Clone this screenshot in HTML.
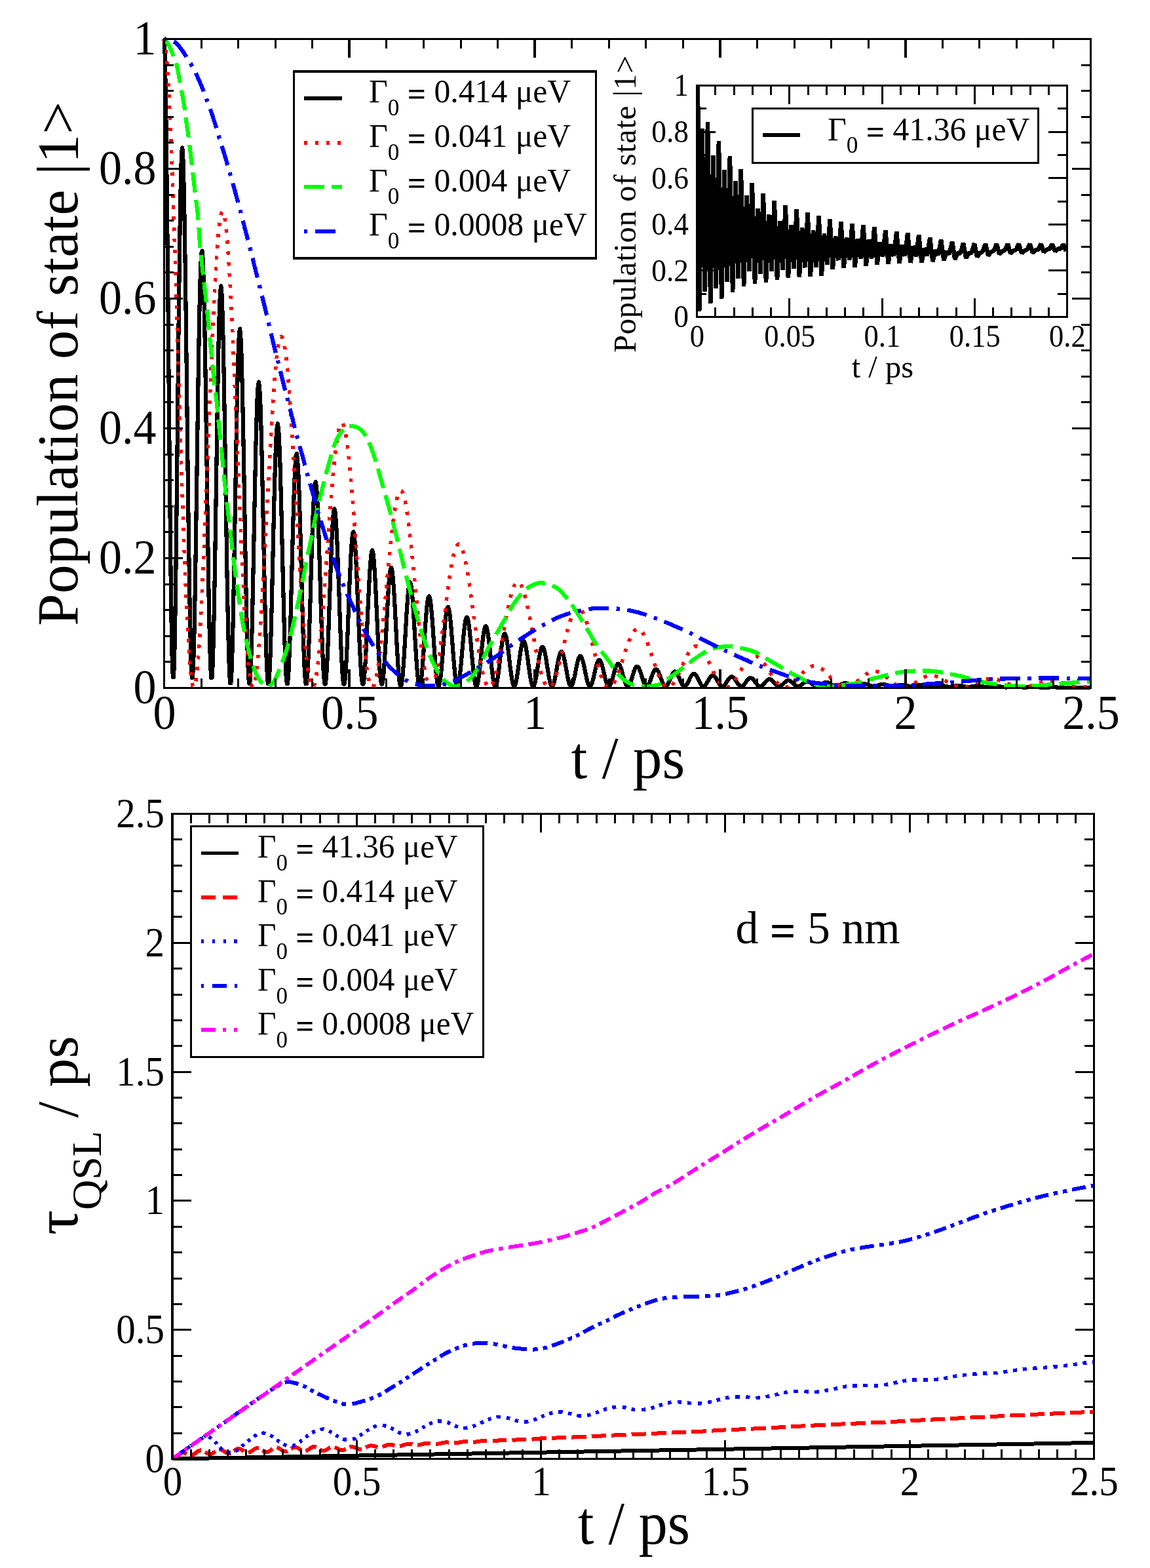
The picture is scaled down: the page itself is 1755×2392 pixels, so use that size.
<!DOCTYPE html>
<html><head><meta charset="utf-8"><title>Population of state |1&gt; and quantum speed limit time</title>
<style>
html,body{margin:0;padding:0;background:#fff;}
svg{display:block;}
text{font-family:"Liberation Serif","DejaVu Serif",serif;fill:#000;}
.ce{shape-rendering:crispEdges;}
</style></head>
<body>
<svg width="1755" height="2392" viewBox="0 0 1755 2392">
<rect width="1755" height="2392" fill="#fff"/>
<g class="ce" fill="none" stroke-linejoin="round">
<path d="M250.5,59.5 L251.6,82 L252.7,133.4 L253.8,210.5 L254.9,308.2 L256.1,420.4 L257.2,540 L258.3,659.7 L259.4,772.2 L260.5,870.8 L261.6,949.9 L262.7,1004.9 L263.8,1033 L265,1033 L266.1,1005.6 L267.2,953.1 L268.3,879.2 L269.4,789.3 L270.5,689.3 L271.6,585.7 L272.7,485.4 L273.9,394.7 L275,319.4 L276.1,264 L277.2,232.1 L278.3,225.3 L279.5,244.9 L280.7,288.5 L281.9,353.1 L283.1,434.6 L284.3,527.9 L285.5,627.1 L286.7,726.2 L287.9,819.1 L289.2,900.4 L290.4,965.4 L291.6,1010.6 L292.8,1033.6 L294,1033.6 L295.2,1011.3 L296.4,968.4 L297.6,908.4 L298.8,835.3 L300,754.2 L301.2,670.5 L302.4,589.6 L303.6,516.6 L304.8,456.3 L306,412.3 L307.2,387.2 L308.4,382.5 L309.6,395 L310.7,427.1 L311.9,476.9 L313.1,541.1 L314.2,615.7 L315.4,696 L316.5,777.1 L317.7,853.8 L318.8,921.5 L320,976.2 L321.1,1014.4 L322.3,1034 L323.5,1034 L324.6,1014.6 L325.8,977.2 L326.9,924.3 L328.1,859.4 L329.2,786.7 L330.4,710.9 L331.5,636.8 L332.7,569.2 L333.8,512.2 L335,469.5 L336.2,443.6 L337.3,436.2 L338.5,448.5 L339.6,479 L340.8,525.8 L341.9,585.8 L343.1,655.3 L344.2,730 L345.4,805.1 L346.5,876.1 L347.7,938.6 L348.9,989 L350,1024.2 L351.2,1042.2 L352.3,1042.2 L353.5,1024.5 L354.6,990.2 L355.8,942 L356.9,882.8 L358.1,816.8 L359.3,748 L360.4,681 L361.6,619.9 L362.7,568.7 L363.9,530.5 L365,507.7 L366.2,501.6 L367.3,513.6 L368.5,541.7 L369.6,584.2 L370.8,638.2 L372,700.5 L373.1,767 L374.3,833.7 L375.4,896.5 L376.6,951.6 L377.7,995.9 L378.9,1026.7 L380,1042.5 L381.2,1042.5 L382.3,1027.1 L383.5,997.4 L384.7,955.7 L385.8,904.8 L387,848.1 L388.1,789.3 L389.3,732.2 L390.4,680.5 L391.6,637.4 L392.7,605.5 L393.9,586.9 L395,582.6 L396.2,592.5 L397.4,616.3 L398.5,652.2 L399.7,698.1 L400.8,751 L402,807.6 L403.1,864.5 L404.3,918 L405.4,965.1 L406.6,1002.9 L407.8,1029.3 L408.9,1042.8 L410.1,1042.8 L411.2,1029.6 L412.4,1004.1 L413.5,968.3 L414.7,924.6 L415.8,875.8 L417,825.2 L418.1,776 L419.3,731.4 L420.5,694.1 L421.6,666.5 L422.8,650.2 L423.9,646.3 L425.1,654.5 L426.2,674.5 L427.4,705.2 L428.5,744.6 L429.7,790.1 L430.8,839 L432,888.1 L433.2,934.5 L434.3,975.4 L435.5,1008.3 L436.6,1031.2 L437.8,1043 L438.9,1043 L440.1,1031.4 L441.2,1009.1 L442.4,977.7 L443.6,939.2 L444.7,896.2 L445.9,851.5 L447,808 L448.2,768.3 L449.3,735.1 L450.5,710.4 L451.6,695.7 L452.8,691.8 L453.9,699.1 L455.1,717 L456.3,744.3 L457.4,779.2 L458.6,819.6 L459.7,862.8 L460.9,906.3 L462,947.4 L463.2,983.5 L464.3,1012.5 L465.5,1032.8 L466.6,1043.2 L467.8,1043.2 L469,1033 L470.1,1013.4 L471.3,985.7 L472.4,951.8 L473.6,914 L474.7,874.7 L475.9,836.5 L477,801.7 L478.2,772.6 L479.4,751 L480.5,738.2 L481.7,734.9 L482.8,741.5 L484,757.4 L485.1,781.4 L486.3,812.1 L487.4,847.6 L488.6,885.5 L489.7,923.7 L490.9,959.6 L492.1,991.2 L493.2,1016.6 L494.4,1034.3 L495.5,1043.4 L496.7,1043.4 L497.8,1034.5 L499,1017.4 L500.1,993.3 L501.3,963.9 L502.4,931.1 L503.6,897 L504.8,863.8 L505.9,833.8 L507.1,808.6 L508.2,790 L509.4,779 L510.5,776.3 L511.7,782 L512.8,795.7 L514,816.5 L515.1,843.1 L516.3,873.8 L517.5,906.7 L518.6,939.7 L519.8,970.9 L520.9,998.3 L522.1,1020.3 L523.2,1035.6 L524.4,1043.5 L525.5,1043.5 L526.7,1035.8 L527.9,1020.9 L529,1000 L530.2,974.5 L531.3,946 L532.5,916.3 L533.6,887.5 L534.8,861.4 L535.9,839.5 L537.1,823.3 L538.2,813.7 L539.4,811.3 L540.6,816.1 L541.7,828 L542.9,846 L544,869.1 L545.2,895.7 L546.3,924.3 L547.5,953.1 L548.6,980.2 L549.8,1004.1 L550.9,1023.3 L552.1,1036.8 L553.3,1043.6 L554.4,1043.6 L555.6,1036.9 L556.7,1023.9 L557.9,1005.6 L559,983.2 L560.2,958.1 L561.3,932.1 L562.5,906.8 L563.7,883.8 L564.8,864.5 L566,850.2 L567.1,841.7 L568.3,839.5 L569.4,843.8 L570.6,854.3 L571.7,870.2 L572.9,890.5 L574,914 L575.2,939.1 L576.4,964.4 L577.5,988.2 L578.7,1009.1 L579.8,1026 L581,1037.7 L582.1,1043.7 L583.3,1043.7 L584.4,1037.8 L585.6,1026.5 L586.7,1010.5 L587.9,990.9 L589.1,969.1 L590.2,946.4 L591.4,924.3 L592.5,904.3 L593.7,887.5 L594.8,875.1 L596,867.7 L597.1,865.9 L598.3,869.7 L599.4,878.9 L600.6,892.9 L601.8,910.9 L602.9,931.6 L604.1,953.8 L605.2,976.1 L606.4,997.2 L607.5,1015.7 L608.7,1030.6 L609.8,1041 L611,1046.3 L612.2,1046.3 L613.3,1041.1 L614.5,1031 L615.6,1016.9 L616.8,999.5 L617.9,980.2 L619.1,960.1 L620.2,940.5 L621.4,922.7 L622.5,907.8 L623.7,896.8 L624.9,890.2 L626,888.6 L627.2,892 L628.3,900.1 L629.5,912.4 L630.6,928.1 L631.8,946.2 L632.9,965.6 L634.1,985.1 L635.2,1003.5 L636.4,1019.7 L637.6,1032.7 L638.7,1041.8 L639.9,1046.4 L641,1046.4 L642.2,1041.9 L643.3,1033.1 L644.5,1020.8 L645.6,1005.7 L646.8,988.9 L648,971.4 L649.1,954.4 L650.3,939 L651.4,926.1 L652.6,916.5 L653.7,910.9 L654.9,909.5 L656,912.3 L657.2,919.3 L658.3,929.9 L659.5,943.5 L660.7,959.2 L661.8,976.1 L663,993.1 L664.1,1009.1 L665.3,1023.2 L666.4,1034.5 L667.6,1042.4 L668.7,1046.5 L669.9,1046.5 L671,1042.5 L672.2,1034.8 L673.4,1024 L674.5,1010.8 L675.7,996 L676.8,980.6 L678,965.6 L679.1,952 L680.3,940.6 L681.4,932.1 L682.6,927.1 L683.8,925.8 L684.9,928.4 L686.1,934.6 L687.2,944 L688.4,956 L689.5,969.9 L690.7,984.7 L691.8,999.6 L693,1013.7 L694.1,1026.1 L695.3,1036.1 L696.5,1043 L697.6,1046.6 L698.8,1046.6 L699.9,1043.1 L701.1,1036.4 L702.2,1026.9 L703.4,1015.4 L704.5,1002.5 L705.7,989.1 L706.8,976.1 L708,964.2 L709.2,954.3 L710.3,947 L711.5,942.7 L712.6,941.6 L713.8,943.8 L714.9,949.2 L716.1,957.3 L717.2,967.8 L718.4,979.8 L719.5,992.8 L720.7,1005.8 L721.9,1018 L723,1028.8 L724.2,1037.5 L725.3,1043.5 L726.5,1046.6 L727.6,1046.6 L728.8,1043.6 L729.9,1037.7 L731.1,1029.5 L732.3,1019.4 L733.4,1008.1 L734.6,996.4 L735.7,985.1 L736.9,974.7 L738,966.1 L739.2,959.7 L740.3,955.9 L741.5,954.9 L742.6,956.8 L743.8,961.5 L745,968.7 L746.1,977.8 L747.3,988.3 L748.4,999.6 L749.6,1011 L750.7,1021.7 L751.9,1031.1 L753,1038.7 L754.2,1044 L755.3,1046.7 L756.5,1046.7 L757.7,1044 L758.8,1038.9 L760,1031.7 L761.1,1022.9 L762.3,1013.1 L763.4,1002.9 L764.6,993 L765.7,984 L766.9,976.4 L768.1,970.8 L769.2,967.5 L770.4,966.7 L771.5,968.4 L772.7,972.5 L773.8,978.8 L775,986.8 L776.1,996 L777.3,1005.8 L778.4,1015.7 L779.6,1025 L780.8,1033.2 L781.9,1039.8 L783.1,1044.4 L784.2,1046.7 L785.4,1046.7 L786.5,1044.4 L787.7,1040 L788.8,1033.7 L790,1026.1 L791.1,1017.6 L792.3,1008.8 L793.5,1000.2 L794.6,992.4 L795.8,985.9 L796.9,981.1 L798.1,978.3 L799.2,977.6 L800.4,979.1 L801.5,982.6 L802.7,988 L803.8,994.9 L805,1002.8 L806.2,1011.3 L807.3,1019.9 L808.5,1027.9 L809.6,1035 L810.8,1040.7 L811.9,1044.7 L813.1,1046.7 L814.2,1046.7 L815.4,1044.7 L816.6,1040.9 L817.7,1035.5 L818.9,1028.9 L820,1021.5 L821.2,1013.9 L822.3,1006.4 L823.5,999.6 L824.6,994 L825.8,989.8 L826.9,987.3 L828.1,986.7 L829.3,988 L830.4,991 L831.6,995.7 L832.7,1001.6 L833.9,1008.5 L835,1015.9 L836.2,1023.4 L837.3,1030.4 L838.5,1036.6 L839.6,1041.5 L840.8,1045 L842,1046.8 L843.1,1046.8 L844.3,1045 L845.4,1041.7 L846.6,1036.9 L847.7,1031.1 L848.9,1024.7 L850,1017.9 L851.2,1011.4 L852.4,1005.4 L853.5,1000.5 L854.7,996.8 L855.8,994.6 L857,994 L858.1,995.1 L859.3,997.8 L860.4,1001.9 L861.6,1007.2 L862.7,1013.2 L863.9,1019.7 L865.1,1026.3 L866.2,1032.4 L867.4,1037.9 L868.5,1042.2 L869.7,1045.2 L870.8,1046.8 L872,1046.8 L873.1,1045.3 L874.3,1042.3 L875.4,1038.2 L876.6,1033.1 L877.8,1027.5 L878.9,1021.6 L880.1,1015.9 L881.2,1010.7 L882.4,1006.4 L883.5,1003.2 L884.7,1001.3 L885.8,1000.8 L887,1001.8 L888.1,1004.1 L889.3,1007.7 L890.5,1012.3 L891.6,1017.6 L892.8,1023.3 L893.9,1028.9 L895.1,1034.3 L896.2,1039 L897.4,1042.8 L898.5,1045.5 L899.7,1046.8 L900.9,1046.8 L902,1045.5 L903.2,1042.9 L904.3,1039.3 L905.5,1034.9 L906.6,1030 L907.8,1024.9 L908.9,1019.9 L910.1,1015.4 L911.2,1011.7 L912.4,1008.9 L913.6,1007.2 L914.7,1006.8 L915.9,1007.7 L917,1009.8 L918.2,1012.9 L919.3,1016.9 L920.5,1021.5 L921.6,1026.4 L922.8,1031.4 L923.9,1036 L925.1,1040.1 L926.3,1043.4 L927.4,1045.7 L928.6,1046.9 L929.7,1046.9 L930.9,1045.7 L932,1043.5 L933.2,1040.4 L934.3,1036.6 L935.5,1032.4 L936.7,1028 L937.8,1023.8 L939,1019.9 L940.1,1016.7 L941.3,1014.3 L942.4,1012.9 L943.6,1012.6 L944.7,1013.3 L945.9,1015.1 L947,1017.7 L948.2,1021.1 L949.4,1025 L950.5,1029.3 L951.7,1033.5 L952.8,1037.5 L954,1041 L955.1,1043.9 L956.3,1045.9 L957.4,1046.9 L958.6,1046.9 L959.7,1045.9 L960.9,1044 L962.1,1041.2 L963.2,1037.9 L964.4,1034.2 L965.5,1030.4 L966.7,1026.7 L967.8,1023.3 L969,1020.4 L970.1,1018.3 L971.3,1017 L972.5,1016.7 L973.6,1017.4 L974.8,1018.9 L975.9,1021.3 L977.1,1024.3 L978.2,1027.7 L979.4,1031.5 L980.5,1035.2 L981.7,1038.7 L982.8,1041.8 L984,1044.3 L985.2,1046 L986.3,1046.9 L987.5,1046.9 L988.6,1046 L989.8,1044.4 L990.9,1042 L992.1,1039.1 L993.2,1035.9 L994.4,1032.6 L995.5,1029.4 L996.7,1026.5 L997.9,1024 L999,1022.2 L1000.2,1021.2 L1001.3,1020.9 L1002.5,1021.5 L1003.6,1022.8 L1004.8,1024.8 L1005.9,1027.4 L1007.1,1030.4 L1008.2,1033.6 L1009.4,1036.8 L1010.6,1039.9 L1011.7,1042.5 L1012.9,1044.7 L1014,1046.1 L1015.2,1046.9 L1016.3,1046.9 L1017.5,1046.2 L1018.6,1044.7 L1019.8,1042.7 L1021,1040.2 L1022.1,1037.5 L1023.3,1034.6 L1024.4,1031.8 L1025.6,1029.3 L1026.7,1027.2 L1027.9,1025.6 L1029,1024.7 L1030.2,1024.5 L1031.3,1025 L1032.5,1026.1 L1033.7,1027.9 L1034.8,1030.1 L1036,1032.7 L1037.1,1035.5 L1038.3,1038.2 L1039.4,1040.8 L1040.6,1043.1 L1041.7,1045 L1042.9,1046.3 L1044,1046.9 L1045.2,1046.9 L1046.4,1046.3 L1047.5,1045 L1048.7,1043.3 L1049.8,1041.2 L1051,1038.8 L1052.1,1036.3 L1053.3,1033.9 L1054.4,1031.7 L1055.6,1029.9 L1056.8,1028.6 L1057.9,1027.8 L1059.1,1027.6 L1060.2,1028 L1061.4,1029 L1062.5,1030.5 L1063.7,1032.5 L1064.8,1034.7 L1066,1037.1 L1067.1,1039.4 L1068.3,1041.7 L1069.5,1043.7 L1070.6,1045.3 L1071.8,1046.4 L1072.9,1046.9 L1074.1,1046.9 L1075.2,1046.4 L1076.4,1045.3 L1077.5,1043.8 L1078.7,1042 L1079.8,1039.9 L1081,1037.8 L1082.2,1035.7 L1083.3,1033.9 L1084.5,1032.3 L1085.6,1031.1 L1086.8,1030.5 L1087.9,1030.3 L1089.1,1030.6 L1090.2,1031.5 L1091.4,1032.8 L1092.5,1034.4 L1093.7,1036.3 L1094.9,1038.4 L1096,1040.5 L1097.2,1042.4 L1098.3,1044.1 L1099.5,1045.5 L1100.6,1046.4 L1101.8,1046.9 L1102.9,1046.9 L1104.1,1046.5 L1105.3,1045.5 L1106.4,1044.2 L1107.6,1042.6 L1108.7,1040.8 L1109.9,1038.9 L1111,1037.1 L1112.2,1035.5 L1113.3,1034.1 L1114.5,1033.1 L1115.6,1032.5 L1116.8,1032.3 L1118,1032.6 L1119.1,1033.4 L1120.3,1034.5 L1121.4,1036 L1122.6,1037.7 L1123.7,1039.5 L1124.9,1041.3 L1126,1043 L1127.2,1044.5 L1128.3,1045.7 L1129.5,1046.5 L1130.7,1046.9 L1131.8,1046.9 L1133,1046.5 L1134.1,1045.7 L1135.3,1044.6 L1136.4,1043.2 L1137.6,1041.6 L1138.7,1040 L1139.9,1038.4 L1141.1,1037 L1142.2,1035.8 L1143.4,1034.9 L1144.5,1034.4 L1145.7,1034.3 L1146.8,1034.6 L1148,1035.2 L1149.1,1036.2 L1150.3,1037.5 L1151.4,1038.9 L1152.6,1040.5 L1153.8,1042.1 L1154.9,1043.5 L1156.1,1044.8 L1157.2,1045.9 L1158.4,1046.6 L1159.5,1047 L1160.7,1047 L1161.8,1046.6 L1163,1045.9 L1164.1,1044.9 L1165.3,1043.7 L1166.5,1042.4 L1167.6,1041 L1168.8,1039.7 L1169.9,1038.5 L1171.1,1037.5 L1172.2,1036.7 L1173.4,1036.3 L1174.5,1036.2 L1175.7,1036.4 L1176.8,1037 L1178,1037.9 L1179.2,1038.9 L1180.3,1040.2 L1181.5,1041.5 L1182.6,1042.8 L1183.8,1044.1 L1184.9,1045.2 L1186.1,1046 L1187.2,1046.6 L1188.4,1047 L1189.6,1047 L1190.7,1046.7 L1191.9,1046.1 L1193,1045.3 L1194.2,1044.3 L1195.3,1043.1 L1196.5,1042 L1197.6,1040.9 L1198.8,1039.9 L1199.9,1039 L1201.1,1038.4 L1202.3,1038.1 L1203.4,1038 L1204.6,1038.2 L1205.7,1038.7 L1206.9,1039.4 L1208,1040.3 L1209.2,1041.3 L1210.3,1042.4 L1211.5,1043.5 L1212.6,1044.6 L1213.8,1045.5 L1215,1046.2 L1216.1,1046.7 L1217.3,1047 L1218.4,1047 L1219.6,1046.7 L1220.7,1046.2 L1221.9,1045.5 L1223,1044.7 L1224.2,1043.8 L1225.4,1042.8 L1226.5,1041.9 L1227.7,1041 L1228.8,1040.3 L1230,1039.8 L1231.1,1039.5 L1232.3,1039.4 L1233.4,1039.6 L1234.6,1040 L1235.7,1040.6 L1236.9,1041.4 L1238.1,1042.2 L1239.2,1043.2 L1240.4,1044.1 L1241.5,1045 L1242.7,1045.7 L1243.8,1046.3 L1245,1046.8 L1246.1,1047 L1247.3,1047 L1248.4,1046.8 L1249.6,1046.4 L1250.8,1045.8 L1251.9,1045.1 L1253.1,1044.4 L1254.2,1043.6 L1255.4,1042.8 L1256.5,1042.1 L1257.7,1041.6 L1258.8,1041.2 L1260,1040.9 L1261.2,1040.9 L1262.3,1041.1 L1263.5,1041.4 L1264.6,1041.9 L1265.8,1042.5 L1266.9,1043.2 L1268.1,1043.9 L1269.2,1044.7 L1270.4,1045.4 L1271.5,1046 L1272.7,1046.5 L1273.9,1046.8 L1275,1047 L1276.2,1047 L1277.3,1046.8 L1278.5,1046.5 L1279.6,1046 L1280.8,1045.5 L1281.9,1044.9 L1283.1,1044.3 L1284.2,1043.7 L1285.4,1043.2 L1286.6,1042.7 L1287.7,1042.4 L1288.9,1042.2 L1290,1042.2 L1291.2,1042.3 L1292.3,1042.6 L1293.5,1042.9 L1294.6,1043.4 L1295.8,1044 L1296.9,1044.6 L1298.1,1045.2 L1299.3,1045.7 L1300.4,1046.2 L1301.6,1046.6 L1302.7,1046.8 L1303.9,1047 L1305,1047 L1306.2,1046.8 L1307.3,1046.6 L1308.5,1046.2 L1309.7,1045.8 L1310.8,1045.3 L1312,1044.8 L1313.1,1044.3 L1314.3,1043.9 L1315.4,1043.5 L1316.6,1043.3 L1317.7,1043.1 L1318.9,1043.1 L1320,1043.2 L1321.2,1043.4 L1322.4,1043.7 L1323.5,1044.1 L1324.7,1044.6 L1325.8,1045 L1327,1045.5 L1328.1,1046 L1329.3,1046.3 L1330.4,1046.7 L1331.6,1046.9 L1332.7,1047 L1333.9,1047 L1335.1,1046.9 L1336.2,1046.7 L1337.4,1046.4 L1338.5,1046 L1339.7,1045.7 L1340.8,1045.3 L1342,1044.9 L1343.1,1044.5 L1344.3,1044.2 L1345.5,1044 L1346.6,1043.9 L1347.8,1043.9 L1348.9,1044 L1350.1,1044.2 L1351.2,1044.4 L1352.4,1044.7 L1353.5,1045.1 L1354.7,1045.5 L1355.8,1045.9 L1357,1046.2 L1358.2,1046.5 L1359.3,1046.8 L1360.5,1047 L1361.6,1047 L1362.8,1047 L1363.9,1047 L1365.1,1046.8 L1366.2,1046.6 L1367.4,1046.3 L1368.5,1046 L1369.7,1045.7 L1370.9,1045.4 L1372,1045.1 L1373.2,1044.9 L1374.3,1044.7 L1375.5,1044.6 L1376.6,1044.6 L1377.8,1044.7 L1378.9,1044.8 L1380.1,1045 L1381.2,1045.3 L1382.4,1045.6 L1383.6,1045.9 L1384.7,1046.2 L1385.9,1046.5 L1387,1046.8 L1388.2,1047 L1389.3,1047.2 L1390.5,1047.3 L1391.6,1047.3 L1392.8,1047.2 L1394,1047 L1395.1,1046.8 L1396.3,1046.6 L1397.4,1046.3 L1398.6,1046 L1399.7,1045.8 L1400.9,1045.5 L1402,1045.3 L1403.2,1045.2 L1404.3,1045.1 L1405.5,1045 L1406.7,1045.1 L1407.8,1045.2 L1409,1045.4 L1410.1,1045.7 L1411.3,1046 L1412.4,1046.3 L1413.6,1046.6 L1414.7,1046.8 L1415.9,1047.1 L1417,1047.3 L1418.2,1047.4 L1419.4,1047.5 L1420.5,1047.5 L1421.7,1047.4 L1422.8,1047.3 L1424,1047.1 L1425.1,1046.9 L1426.3,1046.6 L1427.4,1046.4 L1428.6,1046.1 L1429.8,1045.9 L1430.9,1045.7 L1432.1,1045.6 L1433.2,1045.5 L1434.4,1045.5 L1435.5,1045.6 L1436.7,1045.7 L1437.8,1045.9 L1439,1046.1 L1440.1,1046.3 L1441.3,1046.6 L1442.5,1046.9 L1443.6,1047.1 L1444.8,1047.4 L1445.9,1047.5 L1447.1,1047.7 L1448.2,1047.7 L1449.4,1047.7 L1450.5,1047.7 L1451.7,1047.5 L1452.8,1047.4 L1454,1047.2 L1455.2,1047 L1456.3,1046.7 L1457.5,1046.5 L1458.6,1046.3 L1459.8,1046.1 L1460.9,1046 L1462.1,1046 L1463.2,1045.9 L1464.4,1046 L1465.5,1046.1 L1466.7,1046.3 L1467.9,1046.5 L1469,1046.7 L1470.2,1046.9 L1471.3,1047.2 L1472.5,1047.4 L1473.6,1047.6 L1474.8,1047.8 L1475.9,1047.9 L1477.1,1047.9 L1478.3,1047.9 L1479.4,1047.9 L1480.6,1047.8 L1481.7,1047.6 L1482.9,1047.5 L1484,1047.3 L1485.2,1047.1 L1486.3,1046.9 L1487.5,1046.7 L1488.6,1046.6 L1489.8,1046.5 L1491,1046.4 L1492.1,1046.4 L1493.3,1046.4 L1494.4,1046.5 L1495.6,1046.7 L1496.7,1046.9 L1497.9,1047.1 L1499,1047.3 L1500.2,1047.5 L1501.3,1047.7 L1502.5,1047.9 L1503.7,1048 L1504.8,1048.1 L1506,1048.2 L1507.1,1048.2 L1508.3,1048.1 L1509.4,1048 L1510.6,1047.9 L1511.7,1047.8 L1512.9,1047.6 L1514.1,1047.4 L1515.2,1047.3 L1516.4,1047.1 L1517.5,1047 L1518.7,1046.9 L1519.8,1046.9 L1521,1046.8 L1522.1,1046.9 L1523.3,1047 L1524.4,1047.1 L1525.6,1047.3 L1526.8,1047.4 L1527.9,1047.6 L1529.1,1047.8 L1530.2,1048 L1531.4,1048.2 L1532.5,1048.3 L1533.7,1048.4 L1534.8,1048.4 L1536,1048.4 L1537.1,1048.4 L1538.3,1048.3 L1539.5,1048.2 L1540.6,1048 L1541.8,1047.9 L1542.9,1047.8 L1544.1,1047.6 L1545.2,1047.5 L1546.4,1047.4 L1547.5,1047.3 L1548.7,1047.3 L1549.9,1047.3 L1551,1047.3 L1552.2,1047.4 L1553.3,1047.5 L1554.5,1047.7 L1555.6,1047.8 L1556.8,1048 L1557.9,1048.1 L1559.1,1048.3 L1560.2,1048.4 L1561.4,1048.5 L1562.6,1048.6 L1563.7,1048.6 L1564.9,1048.6 L1566,1048.6 L1567.2,1048.5 L1568.3,1048.4 L1569.5,1048.3 L1570.6,1048.2 L1571.8,1048.1 L1572.9,1048 L1574.1,1047.9 L1575.3,1047.8 L1576.4,1047.8 L1577.6,1047.7 L1578.7,1047.8 L1579.9,1047.8 L1581,1047.9 L1582.2,1048 L1583.3,1048.1 L1584.5,1048.2 L1585.6,1048.3 L1586.8,1048.5 L1588,1048.6 L1589.1,1048.7 L1590.3,1048.8 L1591.4,1048.8 L1592.6,1048.8 L1593.7,1048.8 L1594.9,1048.8 L1596,1048.8 L1597.2,1048.7 L1598.4,1048.6 L1599.5,1048.5 L1600.7,1048.5 L1601.8,1048.4 L1603,1048.3 L1604.1,1048.2 L1605.3,1048.2 L1606.4,1048.2 L1607.6,1048.2 L1608.7,1048.2 L1609.9,1048.3 L1611.1,1048.4 L1612.2,1048.5 L1613.4,1048.6 L1614.5,1048.7 L1615.7,1048.8 L1616.8,1048.9 L1618,1048.9 L1619.1,1049 L1620.3,1049.1 L1621.4,1049.1 L1622.6,1049.1 L1623.8,1049.1 L1624.9,1049 L1626.1,1049 L1627.2,1048.9 L1628.4,1048.9 L1629.5,1048.8 L1630.7,1048.7 L1631.8,1048.7 L1633,1048.7 L1634.2,1048.6 L1635.3,1048.6 L1636.5,1048.6 L1637.6,1048.7 L1638.8,1048.7 L1639.9,1048.8 L1641.1,1048.9 L1642.2,1049 L1643.4,1049 L1644.5,1049.1 L1645.7,1049.2 L1646.9,1049.2 L1648,1049.3 L1649.2,1049.3 L1650.3,1049.3 L1651.5,1049.3 L1652.6,1049.3 L1653.8,1049.3 L1654.9,1049.2 L1656.1,1049.2 L1657.2,1049.2 L1658.4,1049.2 L1659.6,1049.1 L1660.7,1049.1 L1661.9,1049.1 L1663,1049.1 L1664.2,1049.1" stroke="#000" stroke-width="6.2"/>
<path d="M250.5,59.5 L252,67.3 L253.5,80.4 L255,98.6 L256.5,121.7 L258,149.4 L259.6,181.4 L261.1,217.3 L262.6,256.7 L264.1,299.2 L265.6,344.3 L267.1,391.5 L268.6,440.3 L270.1,490.2 L271.6,540.6 L273.1,591.1 L274.6,641 L276.1,689.9 L277.6,737.3 L279.2,782.7 L280.7,825.7 L282.2,865.7 L283.7,902.6 L285.2,935.8 L286.7,965.1 L288.2,990.3 L289.7,1011.2 L291.2,1027.5 L292.7,1039.2 L294.2,1046.2 L295.8,1048.5 L297.3,1046.2 L298.8,1039.3 L300.3,1028.1 L301.8,1012.7 L303.3,993.3 L304.8,970.2 L306.3,943.7 L307.8,914.2 L309.3,882.1 L310.8,847.7 L312.3,811.4 L313.9,773.8 L315.4,735.3 L316.9,696.2 L318.4,657.1 L319.9,618.5 L321.4,580.7 L322.9,544.1 L324.4,509.3 L325.9,476.5 L327.4,446.2 L328.9,418.6 L330.4,394.1 L331.9,372.9 L333.5,355.2 L335,341.2 L336.5,331.1 L338,324.9 L339.5,322.7 L341,324.5 L342.5,330.1 L344,339.6 L345.5,352.9 L347,369.7 L348.5,389.9 L350,413.3 L351.5,439.5 L353,468.3 L354.5,499.4 L355.9,532.4 L357.4,566.9 L358.9,602.6 L360.4,639.1 L361.9,676.1 L363.4,713 L364.9,749.6 L366.4,785.5 L367.9,820.2 L369.4,853.5 L370.9,885 L372.4,914.4 L373.9,941.4 L375.4,965.8 L376.9,987.3 L378.4,1005.8 L379.9,1021.1 L381.4,1033.1 L382.9,1041.6 L384.4,1046.8 L385.9,1048.5 L387.3,1046.8 L388.8,1041.8 L390.3,1033.5 L391.8,1022.2 L393.3,1007.9 L394.8,990.9 L396.3,971.4 L397.8,949.7 L399.3,926.1 L400.8,900.7 L402.3,874.1 L403.8,846.4 L405.3,818 L406.8,789.2 L408.3,760.4 L409.8,731.9 L411.3,704 L412.8,677 L414.3,651.3 L415.8,627.2 L417.2,604.8 L418.7,584.4 L420.2,566.3 L421.7,550.6 L423.2,537.5 L424.7,527.1 L426.2,519.6 L427.7,514.9 L429.2,513.3 L430.7,514.5 L432.2,518.5 L433.8,525.3 L435.3,534.9 L436.9,547.1 L438.4,561.9 L439.9,579 L441.5,598.2 L443,619.3 L444.5,642.2 L446.1,666.4 L447.6,691.9 L449.2,718.2 L450.7,745.1 L452.2,772.4 L453.8,799.7 L455.3,826.8 L456.9,853.3 L458.4,879 L459.9,903.7 L461.5,927 L463,948.8 L464.5,968.9 L466.1,987 L467.6,1003 L469.2,1016.7 L470.7,1028.1 L472.2,1037 L473.8,1043.4 L475.3,1047.2 L476.9,1048.5 L478.4,1047.2 L479.9,1043.5 L481.5,1037.3 L483,1028.8 L484.5,1018.2 L486.1,1005.5 L487.6,990.9 L489.2,974.6 L490.7,956.9 L492.2,937.9 L493.8,917.9 L495.3,897.1 L496.8,875.8 L498.4,854.2 L499.9,832.5 L501.5,811.1 L503,790 L504.5,769.7 L506.1,750.3 L507.6,732.1 L509.2,715.1 L510.7,699.7 L512.2,685.9 L513.8,674 L515.3,664 L516.8,656.1 L518.4,650.3 L519.9,646.6 L521.5,645.2 L523,646 L524.5,649.1 L526,654.3 L527.5,661.6 L529,670.9 L530.5,682.1 L532,695 L533.5,709.6 L535,725.6 L536.5,742.8 L538,761.1 L539.5,780.3 L541,800.2 L542.5,820.5 L544,841 L545.5,861.6 L547,881.9 L548.5,901.9 L550,921.2 L551.5,939.8 L553,957.3 L554.5,973.7 L556,988.8 L557.5,1002.3 L559,1014.3 L560.5,1024.7 L562,1033.2 L563.5,1039.9 L565,1044.7 L566.5,1047.5 L568,1048.5 L569.5,1047.6 L571,1044.7 L572.5,1040.1 L574,1033.8 L575.5,1025.8 L577,1016.3 L578.5,1005.4 L580,993.3 L581.5,980 L583,965.9 L584.5,950.9 L586,935.4 L587.5,919.5 L589,903.4 L590.5,887.3 L592,871.3 L593.5,855.6 L595,840.5 L596.5,826.1 L598,812.5 L599.5,799.9 L601,788.5 L602.5,778.3 L604,769.5 L605.5,762.1 L607,756.2 L608.5,752 L610,749.3 L611.5,748.3 L613,749 L614.5,751.4 L616,755.4 L617.4,760.9 L618.9,767.9 L620.4,776.4 L621.9,786.1 L623.3,797 L624.8,808.9 L626.3,821.8 L627.8,835.5 L629.2,849.8 L630.7,864.5 L632.2,879.6 L633.7,894.9 L635.1,910.2 L636.6,925.3 L638.1,940.1 L639.6,954.4 L641.1,968.2 L642.5,981.1 L644,993.3 L645.5,1004.4 L647,1014.4 L648.4,1023.3 L649.9,1030.9 L651.4,1037.2 L652.9,1042.1 L654.3,1045.7 L655.8,1047.8 L657.3,1048.5 L658.8,1047.8 L660.3,1045.7 L661.7,1042.3 L663.2,1037.7 L664.7,1031.8 L666.2,1024.9 L667.6,1016.9 L669.1,1008 L670.6,998.3 L672.1,987.9 L673.5,977 L675,965.6 L676.5,954 L678,942.3 L679.5,930.5 L680.9,918.8 L682.4,907.5 L683.9,896.5 L685.4,886 L686.8,876.1 L688.3,867 L689.8,858.7 L691.3,851.3 L692.7,844.9 L694.2,839.6 L695.7,835.5 L697.2,832.4 L698.6,830.6 L700.1,829.9 L701.6,830.5 L703.1,832.2 L704.6,835.1 L706.1,839.1 L707.6,844.1 L709.1,850.2 L710.6,857.3 L712.1,865.2 L713.6,873.8 L715.1,883.2 L716.6,893.1 L718.1,903.5 L719.6,914.3 L721.1,925.3 L722.6,936.4 L724.1,947.5 L725.6,958.5 L727.1,969.3 L728.6,979.8 L730.1,989.8 L731.6,999.3 L733.1,1008.1 L734.6,1016.3 L736.1,1023.6 L737.6,1030.1 L739.1,1035.6 L740.6,1040.2 L742.1,1043.9 L743.6,1046.4 L745.1,1048 L746.5,1048.5 L748,1048 L749.5,1046.5 L751,1044 L752.5,1040.6 L754,1036.3 L755.5,1031.2 L757,1025.3 L758.5,1018.8 L760,1011.7 L761.5,1004.1 L763,996 L764.5,987.7 L766,979.2 L767.5,970.5 L769,961.9 L770.5,953.3 L772,944.9 L773.5,936.8 L775,929.1 L776.5,921.8 L778,915.1 L779.5,909 L781,903.5 L782.5,898.8 L784,894.9 L785.5,891.8 L787,889.5 L788.5,888.1 L790,887.6 L791.5,888 L793,889.2 L794.6,891.2 L796.1,894.1 L797.6,897.8 L799.2,902.2 L800.7,907.3 L802.2,913.1 L803.8,919.4 L805.3,926.3 L806.9,933.6 L808.4,941.2 L809.9,949.1 L811.5,957.2 L813,965.4 L814.5,973.6 L816.1,981.8 L817.6,989.8 L819.1,997.5 L820.7,1004.9 L822.2,1011.9 L823.7,1018.5 L825.3,1024.5 L826.8,1030 L828.3,1034.8 L829.9,1038.9 L831.4,1042.4 L832.9,1045 L834.5,1047 L836,1048.1 L837.5,1048.5 L839.1,1048.1 L840.6,1047 L842.2,1045.1 L843.7,1042.6 L845.2,1039.4 L846.8,1035.5 L848.3,1031.1 L849.8,1026.2 L851.4,1020.9 L852.9,1015.2 L854.4,1009.1 L856,1002.9 L857.5,996.4 L859,989.9 L860.6,983.4 L862.1,976.9 L863.6,970.6 L865.2,964.4 L866.7,958.6 L868.2,953 L869.8,947.9 L871.3,943.3 L872.9,939.1 L874.4,935.5 L875.9,932.5 L877.5,930.1 L879,928.3 L880.5,927.2 L882.1,926.8 L883.6,927 L885.1,928 L886.6,929.6 L888.2,931.8 L889.7,934.6 L891.2,938 L892.7,942 L894.3,946.4 L895.8,951.2 L897.3,956.4 L898.8,962 L900.4,967.8 L901.9,973.8 L903.4,979.9 L904.9,986.1 L906.5,992.3 L908,998.4 L909.5,1004.4 L911,1010.3 L912.5,1015.8 L914.1,1021.1 L915.6,1026 L917.1,1030.6 L918.6,1034.6 L920.2,1038.3 L921.7,1041.4 L923.2,1043.9 L924.7,1045.9 L926.3,1047.4 L927.8,1048.2 L929.3,1048.5 L930.8,1048.2 L932.3,1047.4 L933.9,1046 L935.4,1044.1 L936.9,1041.7 L938.4,1038.9 L940,1035.6 L941.5,1032 L943,1028 L944.5,1023.8 L946.1,1019.4 L947.6,1014.7 L949.1,1010 L950.6,1005.2 L952.1,1000.4 L953.7,995.6 L955.2,991 L956.7,986.5 L958.2,982.2 L959.8,978.2 L961.3,974.5 L962.8,971.1 L964.3,968.1 L965.9,965.4 L967.4,963.3 L968.9,961.6 L970.4,960.3 L972,959.6 L973.5,959.3 L975,959.5 L976.5,960.3 L978,961.5 L979.5,963.2 L980.9,965.3 L982.4,967.9 L983.9,970.8 L985.4,974.1 L986.9,977.6 L988.4,981.5 L989.8,985.6 L991.3,989.8 L992.8,994.2 L994.3,998.7 L995.8,1003.2 L997.2,1007.8 L998.7,1012.2 L1000.2,1016.6 L1001.7,1020.8 L1003.2,1024.9 L1004.7,1028.7 L1006.1,1032.3 L1007.6,1035.6 L1009.1,1038.5 L1010.6,1041.1 L1012.1,1043.4 L1013.6,1045.2 L1015,1046.6 L1016.5,1047.7 L1018,1048.3 L1019.5,1048.5 L1021,1048.3 L1022.5,1047.7 L1024,1046.7 L1025.4,1045.4 L1026.9,1043.6 L1028.4,1041.6 L1029.9,1039.3 L1031.4,1036.7 L1032.8,1033.9 L1034.3,1030.9 L1035.8,1027.8 L1037.3,1024.5 L1038.8,1021.1 L1040.3,1017.7 L1041.8,1014.4 L1043.2,1011 L1044.7,1007.7 L1046.2,1004.6 L1047.7,1001.6 L1049.2,998.8 L1050.7,996.2 L1052.1,993.8 L1053.6,991.7 L1055.1,989.9 L1056.6,988.4 L1058.1,987.3 L1059.5,986.4 L1061,985.9 L1062.5,985.8 L1064,986 L1065.5,986.4 L1067,987.2 L1068.4,988.3 L1069.9,989.7 L1071.4,991.5 L1072.9,993.4 L1074.3,995.7 L1075.8,998.1 L1077.3,1000.8 L1078.8,1003.6 L1080.3,1006.6 L1081.7,1009.7 L1083.2,1012.8 L1084.7,1016 L1086.2,1019.2 L1087.7,1022.4 L1089.1,1025.5 L1090.6,1028.5 L1092.1,1031.4 L1093.6,1034.2 L1095,1036.8 L1096.5,1039.1 L1098,1041.2 L1099.5,1043.1 L1101,1044.7 L1102.4,1046.1 L1103.9,1047.1 L1105.4,1047.9 L1106.9,1048.3 L1108.3,1048.5 L1109.8,1048.4 L1111.3,1047.9 L1112.8,1047.2 L1114.3,1046.2 L1115.7,1044.9 L1117.2,1043.4 L1118.7,1041.7 L1120.2,1039.8 L1121.7,1037.6 L1123.1,1035.4 L1124.6,1033 L1126.1,1030.5 L1127.6,1028 L1129,1025.4 L1130.5,1022.9 L1132,1020.3 L1133.5,1017.8 L1135,1015.4 L1136.4,1013.1 L1137.9,1010.9 L1139.4,1008.9 L1140.9,1007 L1142.4,1005.4 L1143.8,1003.9 L1145.3,1002.7 L1146.8,1001.8 L1148.3,1001.1 L1149.7,1000.6 L1151.2,1000.4 L1152.7,1000.5 L1154.2,1000.9 L1155.8,1001.6 L1157.3,1002.6 L1158.8,1003.7 L1160.3,1005.1 L1161.9,1006.7 L1163.4,1008.5 L1164.9,1010.5 L1166.5,1012.6 L1168,1014.8 L1169.5,1017.1 L1171,1019.4 L1172.6,1021.9 L1174.1,1024.3 L1175.6,1026.7 L1177.2,1029.1 L1178.7,1031.5 L1180.2,1033.7 L1181.7,1035.9 L1183.3,1038 L1184.8,1039.9 L1186.3,1041.6 L1187.9,1043.2 L1189.4,1044.6 L1190.9,1045.8 L1192.4,1046.7 L1194,1047.5 L1195.5,1048.1 L1197,1048.4 L1198.6,1048.5 L1200.1,1048.4 L1201.6,1048.1 L1203.1,1047.6 L1204.7,1046.8 L1206.2,1045.9 L1207.7,1044.9 L1209.2,1043.7 L1210.8,1042.3 L1212.3,1040.8 L1213.8,1039.2 L1215.4,1037.6 L1216.9,1035.9 L1218.4,1034.1 L1219.9,1032.3 L1221.5,1030.6 L1223,1028.8 L1224.5,1027.1 L1226.1,1025.5 L1227.6,1023.9 L1229.1,1022.5 L1230.6,1021.1 L1232.2,1019.9 L1233.7,1018.8 L1235.2,1017.9 L1236.8,1017.2 L1238.3,1016.6 L1239.8,1016.2 L1241.3,1015.9 L1242.9,1015.9 L1244.4,1016 L1245.9,1016.2 L1247.5,1016.7 L1249,1017.2 L1250.5,1018 L1252,1018.9 L1253.6,1019.9 L1255.1,1021.1 L1256.6,1022.4 L1258.1,1023.8 L1259.7,1025.2 L1261.2,1026.8 L1262.7,1028.4 L1264.2,1030 L1265.8,1031.7 L1267.3,1033.4 L1268.8,1035 L1270.4,1036.6 L1271.9,1038.2 L1273.4,1039.7 L1274.9,1041.1 L1276.5,1042.4 L1278,1043.7 L1279.5,1044.8 L1281,1045.7 L1282.6,1046.6 L1284.1,1047.3 L1285.6,1047.8 L1287.1,1048.2 L1288.7,1048.4 L1290.2,1048.5 L1291.7,1048.4 L1293.3,1048.2 L1294.8,1047.8 L1296.3,1047.3 L1297.8,1046.7 L1299.4,1045.9 L1300.9,1045 L1302.4,1044 L1303.9,1042.9 L1305.5,1041.8 L1307,1040.5 L1308.5,1039.3 L1310,1038 L1311.6,1036.7 L1313.1,1035.3 L1314.6,1034 L1316.2,1032.8 L1317.7,1031.5 L1319.2,1030.3 L1320.7,1029.2 L1322.3,1028.2 L1323.8,1027.3 L1325.3,1026.4 L1326.8,1025.7 L1328.4,1025.1 L1329.9,1024.6 L1331.4,1024.3 L1332.9,1024 L1334.5,1024 L1336,1024 L1337.4,1024.2 L1338.9,1024.5 L1340.3,1025 L1341.8,1025.5 L1343.2,1026.2 L1344.7,1027 L1346.1,1027.9 L1347.6,1028.9 L1349,1029.9 L1350.5,1031 L1351.9,1032.2 L1353.3,1033.4 L1354.8,1034.7 L1356.2,1035.9 L1357.7,1037.2 L1359.1,1038.4 L1360.6,1039.6 L1362,1040.8 L1363.5,1041.9 L1364.9,1043 L1366.3,1044 L1367.8,1044.9 L1369.2,1045.7 L1370.7,1046.4 L1372.1,1047.1 L1373.6,1047.6 L1375,1048 L1376.5,1048.3 L1377.9,1048.4 L1379.3,1048.5 L1380.8,1048.4 L1382.2,1048.3 L1383.7,1048 L1385.1,1047.6 L1386.6,1047.1 L1388,1046.6 L1389.5,1045.9 L1390.9,1045.2 L1392.4,1044.4 L1393.8,1043.5 L1395.2,1042.6 L1396.7,1041.7 L1398.1,1040.7 L1399.6,1039.7 L1401,1038.8 L1402.5,1037.8 L1403.9,1036.9 L1405.4,1036 L1406.8,1035.1 L1408.2,1034.3 L1409.7,1033.5 L1411.1,1032.8 L1412.6,1032.2 L1414,1031.7 L1415.5,1031.3 L1416.9,1030.9 L1418.4,1030.7 L1419.8,1030.5 L1421.3,1030.5 L1422.7,1030.5 L1424.2,1030.6 L1425.7,1030.9 L1427.3,1031.2 L1428.8,1031.6 L1430.3,1032.2 L1431.8,1032.7 L1433.4,1033.4 L1434.9,1034.1 L1436.4,1034.9 L1437.9,1035.7 L1439.4,1036.6 L1441,1037.5 L1442.5,1038.4 L1444,1039.3 L1445.5,1040.2 L1447,1041.1 L1448.6,1042 L1450.1,1042.9 L1451.6,1043.7 L1453.1,1044.5 L1454.7,1045.2 L1456.2,1045.9 L1457.7,1046.5 L1459.2,1047 L1460.7,1047.4 L1462.3,1047.8 L1463.8,1048.1 L1465.3,1048.3 L1466.8,1048.5 L1468.3,1048.5 L1469.9,1048.5 L1471.4,1048.3 L1472.9,1048.1 L1474.4,1047.9 L1476,1047.5 L1477.5,1047.1 L1479,1046.6 L1480.5,1046.1 L1482,1045.5 L1483.6,1044.9 L1485.1,1044.2 L1486.6,1043.5 L1488.1,1042.9 L1489.7,1042.1 L1491.2,1041.4 L1492.7,1040.7 L1494.2,1040.1 L1495.7,1039.4 L1497.3,1038.8 L1498.8,1038.2 L1500.3,1037.7 L1501.8,1037.2 L1503.3,1036.7 L1504.9,1036.3 L1506.4,1036 L1507.9,1035.8 L1509.4,1035.6 L1511,1035.5 L1512.5,1035.5 L1514,1035.5 L1515.5,1035.6 L1517,1035.8 L1518.5,1036 L1520.1,1036.3 L1521.6,1036.7 L1523.1,1037.1 L1524.6,1037.6 L1526.1,1038.1 L1527.7,1038.6 L1529.2,1039.2 L1530.7,1039.9 L1532.2,1040.5 L1533.7,1041.2 L1535.2,1041.8 L1536.8,1042.5 L1538.3,1043.1 L1539.8,1043.8 L1541.3,1044.4 L1542.8,1045 L1544.3,1045.6 L1545.8,1046.1 L1547.4,1046.6 L1548.9,1047 L1550.4,1047.4 L1551.9,1047.7 L1553.4,1048 L1555,1048.2 L1556.5,1048.4 L1558,1048.5 L1559.5,1048.5 L1561,1048.5 L1562.5,1048.4 L1564,1048.2 L1565.6,1048 L1567.1,1047.8 L1568.6,1047.5 L1570.1,1047.1 L1571.6,1046.7 L1573.2,1046.3 L1574.7,1045.9 L1576.2,1045.4 L1577.7,1044.9 L1579.2,1044.4 L1580.7,1043.9 L1582.2,1043.4 L1583.8,1042.9 L1585.3,1042.4 L1586.8,1041.9 L1588.3,1041.4 L1589.8,1041 L1591.3,1040.6 L1592.9,1040.2 L1594.4,1039.9 L1595.9,1039.6 L1597.4,1039.4 L1598.9,1039.2 L1600.5,1039.1 L1602,1039 L1603.5,1039 L1605,1039 L1606.5,1039.1 L1608.1,1039.2 L1609.6,1039.4 L1611.1,1039.6 L1612.6,1039.8 L1614.2,1040.1 L1615.7,1040.5 L1617.2,1040.9 L1618.7,1041.3 L1620.3,1041.7 L1621.8,1042.2 L1623.3,1042.7 L1624.8,1043.2 L1626.4,1043.7 L1627.9,1044.1 L1629.4,1044.6 L1630.9,1045.1 L1632.5,1045.6 L1634,1046 L1635.5,1046.4 L1637.1,1046.8 L1638.6,1047.2 L1640.1,1047.5 L1641.6,1047.8 L1643.2,1048 L1644.7,1048.2 L1646.2,1048.3 L1647.7,1048.4 L1649.3,1048.5 L1650.8,1048.5 L1652.3,1048.5 L1653.8,1048.4 L1655.4,1048.2 L1656.9,1048 L1658.4,1047.8 L1660,1047.6 L1661.5,1047.3 L1663,1047" stroke="#f00" stroke-width="5.6" stroke-dasharray="5.2 11.76" stroke-dashoffset="0"/>
<path d="M250.5,59.5 253.1,62.1 255.2,65 257,68.2 258.7,71.4 260.3,74.7 261.7,78.1 263.1,81.5 264.5,84.8 264.9,85.8M268.7,96.2 269.7,99.7 270.5,103.3 271.2,106.8 271.9,110.4 272.6,114 273.2,117.6 273.9,121.2 274.6,124.8 274.9,126.6M276.9,137.6 277.4,140.3 278.1,143.9 278.7,147.5 279.4,151.1 280,154.7 280.6,158.3 281.2,161.9 281.7,165.5 282.1,168.2M283.4,179.2 283.8,182.4 284.3,186 284.9,189.6 285.4,193.2 286,196.8 286.5,200.4 287,204 287.5,207.6 287.9,209.9M289.2,221 289.7,224.5 290.1,228.1 290.5,231.7 290.9,235.4 291.3,239 291.8,242.6 292.2,246.2 292.6,249.9 292.8,251.8M294.1,262.9 294.5,265.5 294.9,269.2 295.3,272.8 295.7,276.4 296.1,280 296.6,283.6 297,287.3 297.4,290.9 297.7,293.7M299.1,304.7 299.5,307.8 300,311.4 300.4,315 300.9,318.6 301.3,322.3 301.7,325.9 302.1,329.5 302.4,333.1 302.6,335.5M303.4,346.7 303.6,350.1 303.9,353.7 304.1,357.4 304.3,361 304.5,364.7 304.8,368.3 305.1,371.9 305.4,375.6 305.6,377.6M306.7,388.7 306.9,391.3 307.3,394.9 307.7,398.5 308.1,402.2 308.5,405.8 308.9,409.4 309.3,413 309.7,416.7 310,419.5M311.3,430.6 311.7,433.5 312.1,437.2 312.5,440.8 313,444.4 313.4,448 313.8,451.7 314.2,455.3 314.6,458.9 314.8,461.4M316,472.5 316.3,475.8 316.7,479.5 317,483.1 317.4,486.7 317.7,490.3 318.1,494 318.5,497.6 318.8,501.2 319,503.4M320.1,514.5 320.4,516.9 320.7,520.6 321.1,524.2 321.4,527.8 321.8,531.5 322.1,535.1 322.5,538.7 322.9,542.3 323.2,545.3M324.3,556.4 324.5,559.3 324.9,562.9 325.3,566.5 325.7,570.2 326,573.8 326.4,577.4 326.8,581 327.2,584.6 327.5,587.3M328.9,598.4 329.3,601.5 329.7,605.2 330.1,608.8 330.6,612.4 331,616 331.3,619.7 331.7,623.3 332,626.9 332.3,629.2M333.3,640.3 333.6,643.8 334,647.5 334.3,651.1 334.7,654.7 335,658.4 335.4,662 335.8,665.6 336.2,669.2 336.4,671.1M337.5,682.2 337.8,685 338.2,688.6 338.6,692.2 338.9,695.8 339.3,699.5 339.7,703.1 340,706.7 340.4,710.3 340.6,713.1M341.7,724.2 342,727.3 342.4,730.9 342.7,734.5 343.1,738.2 343.5,741.8 343.9,745.4 344.3,749 344.7,752.7 344.9,755M346.2,766.1 346.6,769.6 347.1,773.2 347.5,776.8 347.9,780.4 348.3,784 348.8,787.7 349.2,791.3 349.6,794.9 349.8,796.9M351.1,808 351.4,810.6 351.9,814.2 352.3,817.8 352.7,821.5 353.1,825.1 353.6,828.7 354,832.3 354.4,835.9 354.7,838.8M356,849.9 356.4,852.8 356.8,856.5 357.3,860.1 357.7,863.7 358.2,867.3 358.6,870.9 359.1,874.5 359.6,878.2 359.9,880.6M361.4,891.7 361.9,895 362.4,898.6 362.9,902.2 363.4,905.8 363.9,909.5 364.5,913.1 365,916.7 365.5,920.3 365.8,922.4M367.5,933.4 367.9,935.9 368.5,939.5 369.1,943.1 369.8,946.7 370.4,950.3 371.1,953.8 371.8,957.4 372.5,961 373.1,963.9M375.4,974.8 376,977.7 376.8,981.2 377.6,984.8 378.5,988.3 379.4,991.9 380.2,995.4 381.2,998.9 382.1,1002.5 382.8,1004.9M386.2,1015.6 387.3,1018.7 388.5,1022.2 389.9,1025.6 391.4,1029 393,1032.2 394.8,1035.2 396.8,1038.4 399.2,1041.4 400.6,1042.7M410.6,1046.9 412.9,1045.6 415.5,1042.9 417.7,1040 419.5,1036.7 421.2,1033.5 422.7,1030.2 424.1,1026.8 425.5,1023.4 426.5,1021M430.5,1010.6 431.7,1007.6 433,1004.2 434.2,1000.7 435.4,997.3 436.6,993.8 437.7,990.4 438.7,986.9 439.7,983.4 440.3,981.2M443.2,970.4 444.1,966.9 444.9,963.4 445.8,959.8 446.6,956.3 447.4,952.7 448.2,949.2 449.1,945.6 449.9,942 450.3,940.2M452.7,929.3 453.3,926.6 454.1,923.1 454.8,919.5 455.6,915.9 456.4,912.4 457.1,908.8 457.9,905.2 458.6,901.7 459.2,899M461.4,888 462,885 462.7,881.4 463.4,877.8 464.1,874.3 464.9,870.7 465.6,867.1 466.3,863.5 467,860 467.5,857.6M469.7,846.7 470.5,843.3 471.2,839.7 471.9,836.2 472.7,832.6 473.4,829 474.2,825.5 474.9,821.9 475.6,818.3 476,816.3M478.1,805.4 478.6,802.8 479.4,799.2 480.1,795.7 480.8,792.1 481.6,788.5 482.4,785 483.2,781.4 484,777.9 484.6,775.1M487.2,764.2 487.9,761.3 488.7,757.8 489.6,754.2 490.5,750.7 491.4,747.1 492.3,743.6 493.1,740.1 494,736.5 494.6,734.1M497.4,723.3 498.3,720 499.2,716.5 500.2,713 501.2,709.5 502.2,706 503.2,702.5 504.2,699 505.2,695.4 505.8,693.5M509,682.8 509.9,680.1 511.2,676.7 512.5,673.4 514,670.1 515.6,667 517.5,663.8 519.6,660.7 522,657.8 523.9,655.9M533.1,649.9 536.3,649.9 540,650.5 543.6,651.4 546.8,652.8 549.9,655.1 552.5,657.5 554.9,660.2 557.1,663.3 558.2,665M563.2,675 564.2,677.3 565.6,680.7 566.8,684.1 568.1,687.6 569.3,691.1 570.5,694.5 571.6,698 572.8,701.4 573.6,704.2M576.8,714.9 577.6,717.8 578.5,721.3 579.5,724.8 580.5,728.3 581.5,731.8 582.5,735.3 583.5,738.8 584.5,742.3 585.2,744.7M588.3,755.5 589.2,758.7 590.2,762.2 591.2,765.7 592.1,769.2 593.1,772.7 594.1,776.3 595,779.8 596,783.3 596.5,785.4M599.3,796.1 600,798.6 600.9,802.1 601.8,805.6 602.7,809.2 603.6,812.7 604.5,816.2 605.4,819.8 606.3,823.3 607,826.2M609.6,837 610.3,839.8 611.2,843.4 612.1,846.9 612.9,850.4 613.8,854 614.7,857.5 615.6,861.1 616.4,864.6 617.1,867.1M619.8,878 620.5,881.1 621.4,884.7 622.3,888.2 623.2,891.7 624.1,895.3 625,898.8 626,902.3 626.9,905.8 627.5,908M630.3,918.8 631.3,922.3 632.2,925.8 633.2,929.3 634.2,932.8 635.2,936.3 636.2,939.8 637.2,943.3 638.2,946.8 638.8,948.6M641.9,959.3 642.8,962 643.8,965.5 645,968.9 646.1,972.4 647.3,975.9 648.5,979.3 649.7,982.7 650.9,986.2 651.8,988.7M655.8,999.1 657,1002.2 658.4,1005.6 659.9,1008.9 661.4,1012.2 663,1015.4 664.7,1018.6 666.5,1021.8 668.3,1025 669.5,1026.9M676,1036 677.8,1037.9 680.4,1040.1 683.4,1042.3 686.7,1044.4 690.1,1046.1 693.5,1047 697,1046.8 700.6,1045.8 703.1,1044.8M712.8,1039.4 715.3,1037.3 718,1034.6 720.5,1031.9 722.8,1029.2 724.9,1026.3 726.9,1023.4 728.8,1020.3 730.6,1017.2 731.8,1015M736.8,1005.1 738.4,1001.8 740.1,998.5 741.8,995.2 743.5,991.9 745.2,988.7 747,985.5 748.8,982.4 750.6,979.2 751.5,977.8M757,968.1 758.5,965.5 760.3,962.3 762.1,959.2 763.9,956 765.7,952.8 767.6,949.7 769.4,946.5 771.2,943.3 772.4,941.2M777.8,931.4 779.5,928.3 781.4,925.2 783.3,922.1 785.3,919.1 787.4,916.2 789.6,913.4 791.9,910.5 794.3,907.5 795.5,906M803.4,898.1 805.8,896.3 808.7,894.6 811.9,893 815.3,891.5 818.9,890.2 822.5,889.4 826,889.2 829.6,889.6 832.2,890.1M842.8,893.5 846,895 849.1,896.5 852,898.5 854.7,900.9 857.4,903.6 859.9,906.4 862.4,909.3 864.8,912 866,913.5M872.6,922.4 874.2,924.7 876.2,927.8 878.2,930.8 880.2,933.9 882.1,937 884.1,940.1 886,943.1 887.9,946.3 889.3,948.5M895,958.1 896.7,960.9 898.6,964 900.4,967.1 902.2,970.3 904,973.5 905.9,976.6 907.8,979.7 909.7,982.8 911,984.7M917.7,993.6 919.9,996.4 922.2,999.2 924.5,1002.1 926.7,1005 928.9,1007.9 931,1011 933,1014.1 935,1017.3 935.9,1018.7M942.5,1027.7 944.4,1029.8 946.9,1032.2 949.7,1034.7 952.6,1037.2 955.6,1039.5 958.8,1041.5 962,1043.1 965.3,1044.3 967.7,1044.9M978.6,1047.1 982.1,1047.4 985.7,1047.5 989.3,1047.3 993,1046.9 996.7,1046.3 1000.3,1045.5 1003.8,1044.7 1007.1,1043.7 1009,1042.8M1018.2,1036.5 1020.3,1034.8 1023.3,1032.6 1026.3,1030.5 1029.3,1028.4 1032.2,1026.3 1035.2,1024.1 1038.1,1021.9 1041,1019.8 1043.2,1018.2M1052,1011.3 1054.5,1009.3 1057.3,1007 1060.3,1004.8 1063.2,1002.8 1066.3,1000.8 1069.4,998.8 1072.5,996.7 1075.7,994.8 1077.5,993.7M1087.7,989.3 1090,988.7 1093.6,988 1097.2,987.3 1100.8,986.7 1104.5,986.3 1108.2,986 1111.8,986 1115.4,986.2 1118.4,986.5M1129.4,988.3 1132.4,989 1135.9,989.8 1139.5,990.7 1142.9,991.6 1146.3,992.6 1149.7,993.8 1153,995.2 1156.2,996.8 1158.7,998.1M1168.3,1003.8 1171.1,1005.6 1174.3,1007.5 1177.5,1009.4 1180.7,1011.2 1183.8,1013 1187,1014.8 1190.1,1016.7 1193.2,1018.6 1195,1019.6M1204.5,1025.3 1206.8,1026.6 1210,1028.4 1213.2,1030.1 1216.5,1031.8 1219.7,1033.5 1223,1035.2 1226.3,1036.9 1229.6,1038.6 1232,1039.7M1242.4,1043.7 1245.4,1044.4 1249,1045.1 1252.6,1045.9 1256.2,1046.4 1259.8,1046.9 1263.5,1047 1267.1,1046.9 1270.7,1046.8 1273.1,1046.6M1284.2,1045.6 1287.7,1045.1 1291.3,1044.6 1295,1044.1 1298.6,1043.6 1302.1,1043.1 1305.7,1042.4 1309.2,1041.6 1312.8,1040.7 1314.7,1040.2M1325.4,1037.1 1328,1036.4 1331.6,1035.4 1335.1,1034.5 1338.6,1033.7 1342.2,1032.8 1345.7,1031.9 1349.3,1030.9 1352.8,1030 1355.4,1029.4M1366.3,1026.9 1369.4,1026.3 1373,1025.8 1376.6,1025.3 1380.2,1024.9 1383.9,1024.5 1387.5,1024.2 1391.1,1023.9 1394.8,1023.6 1397.1,1023.5M1408.3,1023.5 1411.8,1023.5 1415.4,1023.5 1419.1,1023.5 1422.7,1023.7 1426.3,1024.1 1429.9,1024.5 1433.6,1025.1 1437.2,1025.7 1439.1,1026M1450.1,1028.2 1452.7,1028.8 1456.3,1029.5 1459.9,1030.2 1463.4,1030.9 1467,1031.8 1470.5,1032.7 1474.1,1033.7 1477.6,1034.7 1480.2,1035.4M1491,1038.4 1494,1039.2 1497.6,1040 1501.1,1040.8 1504.7,1041.5 1508.3,1042.1 1511.9,1042.7 1515.5,1043.2 1519.1,1043.7 1521.4,1044.1M1532.5,1045.3 1536,1045.6 1539.6,1045.9 1543.3,1046.2 1546.9,1046.4 1550.6,1046.6 1554.2,1046.8 1557.8,1047 1561.5,1047 1563.5,1047M1574.6,1046.4 1577.3,1046.2 1580.9,1045.9 1584.5,1045.7 1588.2,1045.4 1591.8,1045.1 1595.4,1044.8 1599.1,1044.5 1602.7,1044.2 1605.5,1044M1616.6,1043 1619.7,1042.8 1623.3,1042.5 1626.9,1042.2 1630.6,1041.9 1634.2,1041.7 1637.8,1041.4 1641.5,1041.1 1645.1,1040.9 1647.5,1040.7M1658.7,1039.9 1659.7,1039.8 1660.9,1039.8 1662.1,1039.7 1663.3,1039.6 1664.5,1039.5" stroke="#0f0" stroke-width="6.2"/>
<path d="M250.5,59.5 251.4,59.5 252.3,59.6 253.1,59.7 254,59.8 254.3,59.8M265.3,63.4 267,64.4 269,65.8 270.8,67.6 272.6,69.6 274.2,71.7 275.8,73.8 277.4,75.9 278.9,78 280.3,80.2 281.7,82.4 283.1,84.6 284.5,86.8M290.7,96.6 291.9,98.5 293.1,100.8 293.3,101.2M298.7,111.5 299.8,113.9 300.9,116.2 302,118.6 303.1,121 304.1,123.3 305.2,125.7 306.2,128.1 307.2,130.5 308.1,132.9 309.1,135.3 310.1,137.7 310.8,139.6M314.9,150.5 315.5,152.3 316.4,154.8 316.7,155.4M320.7,166.4 321.5,168.6 322.4,171 323.2,173.5 324.1,175.9 324.9,178.4 325.7,180.9 326.5,183.3 327.3,185.8 328.1,188.3 328.9,190.8 329.6,193.3 330.3,195.4M333.6,206.6 334.3,209 335,211.5 335.1,211.6M338.5,222.7 339.2,224.7 339.9,227.2 340.7,229.7 341.5,232.2 342.2,234.7 343,237.1 343.7,239.6 344.5,242.1 345.2,244.6 346,247.1 346.7,249.6 347.4,252M350.6,263.2 351.2,265.4 352,267.9 352.1,268.2M355.2,279.5 355.7,281.2 356.4,283.7 357.1,286.2 357.8,288.7 358.5,291.2 359.2,293.7 359.9,296.2 360.6,298.7 361.2,301.2 361.9,303.8 362.6,306.3 363.3,308.8 363.3,308.9M366.4,320.2 366.9,322.1 367.6,324.6 367.7,325.3M370.7,336.6 371.3,338.9 371.9,341.4 372.6,343.9 373.2,346.4 373.8,349 374.5,351.5 375.1,354 375.8,356.5 376.5,359 377.1,361.5 377.8,364 378.4,366.1M381.3,377.4 382,379.9 382.6,382.5 382.6,382.5M385.4,393.8 386,395.9 386.6,398.4 387.2,400.9 387.8,403.5 388.4,406 389.1,408.5 389.7,411 390.3,413.5 390.9,416.1 391.6,418.6 392.2,421.1 392.8,423.5M395.7,434.8 396.2,437 396.9,439.6 396.9,439.9M399.8,451.2 400.3,453 400.9,455.5 401.5,458 402.2,460.5 402.8,463.1 403.4,465.6 404,468.1 404.6,470.6 405.2,473.2 405.8,475.7 406.4,478.2 407,480.7 407.1,480.9M409.7,492.2 410.2,494.2 410.8,496.8 410.9,497.3M413.6,508.7 414.2,511.1 414.8,513.6 415.4,516.1 416,518.7 416.6,521.2 417.2,523.7 417.8,526.2 418.5,528.7 419.1,531.3 419.7,533.8 420.4,536.3 420.9,538.4M423.8,549.7 424.2,551.4 424.8,553.9 425,554.7M427.8,566.1 428.3,568.2 429,570.7 429.6,573.3 430.2,575.8 430.8,578.3 431.4,580.8 432.1,583.3 432.7,585.9 433.4,588.4 434,590.9 434.7,593.4 435.3,595.7M438.3,607 438.9,609.3 439.6,611.8 439.6,612M442.5,623.4 443,625.2 443.6,627.7 444.2,630.3 444.9,632.8 445.5,635.3 446.1,637.8 446.8,640.3 447.4,642.9 448,645.4 448.6,647.9 449.3,650.4 449.9,653 449.9,653M452.7,664.3 453.3,666.4 453.9,668.9 454.1,669.4M457.2,680.6 457.9,683.1 458.7,685.5 459.4,688 460.1,690.5 460.8,693 461.6,695.5 462.3,698 462.9,700.5 463.6,703 464.3,705.5 464.9,708.1 465.5,710.1M468.4,721.3 468.9,723.1 469.6,725.6 469.8,726.4M473,737.6 473.6,739.8 474.4,742.3 475.1,744.8 475.9,747.2 476.6,749.7 477.3,752.2 478,754.7 478.8,757.2 479.5,759.7 480.2,762.2 480.9,764.7 481.5,767M484.6,778.2 485.2,780.6 486,783.1 486,783.2M489.4,794.4 490,796.3 490.8,798.8 491.6,801.3 492.4,803.8 493.2,806.2 493.9,808.7 494.7,811.2 495.5,813.6 496.3,816.1 497.1,818.6 497.9,821 498.8,823.5M502.4,834.6 503.1,836.7 504,839.1 504.1,839.5M507.9,850.6 508.5,852.2 509.3,854.7 510.2,857.1 511.1,859.6 511.9,862 512.8,864.5 513.7,866.9 514.6,869.3 515.5,871.8 516.5,874.2 517.4,876.6 518.4,879 518.5,879.3M522.9,890.1 523.6,891.8 524.7,894.2 524.9,894.9M529.6,905.6 530.5,907.7 531.6,910.1 532.6,912.5 533.7,914.8 534.8,917.2 535.8,919.5 536.9,921.9 538,924.3 539.1,926.6 540.2,929 541.3,931.3 542.2,933.4M547.1,944 548.2,946.3 549.3,948.6 549.4,948.7M554.7,959.1 555.7,960.9 556.9,963.2 558.2,965.5 559.4,967.8 560.7,970 562,972.3 563.3,974.5 564.6,976.7 566,979 567.3,981.2 568.7,983.4 570,985.5M576.5,995.2 577.8,997.1 579.4,999.2 579.6,999.5M586.8,1008.6 588,1010 589.7,1012 591.5,1014 593.3,1015.9 595.1,1017.8 596.9,1019.6 598.8,1021.4 600.6,1023.1 602.6,1024.8 604.5,1026.6 606.6,1028.3 608.6,1030M618,1036.8 620.1,1038 622.4,1039 622.7,1039.2M633.7,1043.1 636.2,1043.8 638.7,1044.5 641.3,1045.1 643.9,1045.7 646.5,1046.1 649.1,1046.4 651.7,1046.5 654.3,1046.5 656.8,1046.4 659.5,1046.3 662.1,1046.1 663.9,1045.9M675.4,1044.5 677.6,1044.1 680.1,1043.7 680.6,1043.6M691.6,1039.8 693.7,1038.8 696.1,1037.5 698.4,1036.2 700.7,1034.9 703,1033.6 705.4,1032.4 707.7,1031.2 710,1030 712.3,1028.7 714.5,1027.5 716.8,1026.2 718.5,1025.3M728.5,1019.4 730.3,1018.3 732.5,1017 733,1016.7M743,1010.6 745,1009.3 747.2,1007.9 749.4,1006.5 751.6,1005.1 753.8,1003.7 755.9,1002.2 758.1,1000.8 760.2,999.3 762.3,997.8 764.4,996.2 766.5,994.7 768.2,993.4M777.6,986.4 779,985.4 781.1,983.9 781.9,983.4M791.5,976.8 793.3,975.6 795.5,974.2 797.6,972.8 799.8,971.3 802,969.9 804.2,968.5 806.4,967.1 808.5,965.7 810.7,964.3 812.9,962.9 815.1,961.6 817.2,960.3M827.2,954.3 829.3,953.2 831.6,951.9 831.8,951.8M842.1,946.3 843.9,945.5 846.2,944.3 848.6,943.2 850.9,942.2 853.3,941.2 855.7,940.2 858.1,939.3 860.6,938.5 863,937.6 865.5,936.8 868,936 870.5,935.2 870.5,935.2M881.8,932.2 883.9,931.8 886.5,931.3 886.9,931.2M898.4,929.1 901,928.7 903.6,928.4 906.2,928.1 908.8,927.9 911.3,927.7 913.9,927.7 916.5,927.7 919.1,927.7 921.7,927.8 924.3,927.8 926.9,927.9 928.9,928M940.6,928.5 942.5,928.6 945.1,928.8 945.8,928.8M957.3,930.6 959.6,931 962.2,931.6 964.7,932.1 967.3,932.7 969.8,933.3 972.3,933.9 974.8,934.5 977.3,935.2 979.8,936 982.3,936.7 984.7,937.6 986.8,938.3M997.8,942.2 1000.3,943.1 1002.7,944 1002.7,944M1013.6,948.3 1015.6,949.1 1018,950.1 1020.4,951.1 1022.8,952.1 1025.2,953.1 1027.5,954.2 1029.9,955.2 1032.3,956.2 1034.7,957.2 1037.1,958.3 1039.5,959.3 1041.7,960.3M1052.3,965.2 1054.4,966.3 1056.7,967.4 1057,967.6M1067.3,973 1069,973.9 1071.2,975.1 1073.5,976.3 1075.8,977.5 1078.2,978.7 1080.5,979.8 1082.8,981 1085.1,982.2 1087.5,983.3 1089.8,984.4 1092.1,985.6 1094.5,986.7 1094.6,986.8M1105.1,991.8 1107,992.7 1109.3,993.8 1109.8,994M1120.4,998.9 1122.7,999.9 1125.1,1001 1127.4,1002 1129.8,1003.1 1132.2,1004.2 1134.5,1005.2 1136.9,1006.3 1139.3,1007.3 1141.7,1008.4 1144,1009.5 1146.4,1010.5 1148.4,1011.3M1159.1,1015.9 1160.8,1016.5 1163.2,1017.4 1164,1017.7M1174.9,1021.8 1177,1022.5 1179.5,1023.4 1181.9,1024.2 1184.4,1025.1 1186.8,1025.9 1189.3,1026.8 1191.7,1027.7 1194.2,1028.6 1196.6,1029.4 1199.1,1030.3 1201.5,1031.2 1203.8,1031.9M1214.9,1035.3 1217.2,1036 1219.8,1036.6 1220,1036.7M1231.3,1039.5 1233.3,1039.9 1235.8,1040.4 1238.4,1040.9 1240.9,1041.3 1243.5,1041.6 1246.1,1041.9 1248.6,1042.2 1251.2,1042.5 1253.8,1042.8 1256.3,1043.1 1258.9,1043.4 1261.5,1043.6 1261.6,1043.6M1273.2,1044.7 1275.3,1044.9 1277.9,1045.1 1278.4,1045.1M1290.1,1045.7 1291.8,1045.8 1294.4,1045.9 1297,1046 1299.6,1046 1302.2,1046 1304.8,1046 1307.4,1046.1 1310,1046.1 1312.6,1046.1 1315.2,1046.1 1317.8,1046.1 1320.4,1046.2 1320.6,1046.2M1332.3,1046.2 1334.2,1046.2 1336.8,1046.3 1337.5,1046.3M1349.2,1046.3 1351.5,1046.3 1354.1,1046.3 1356.7,1046.3 1359.3,1046.3 1361.9,1046.3 1364.5,1046.3 1367.1,1046.2 1369.7,1046.2 1372.3,1046.2 1374.9,1046.1 1377.5,1046 1379.8,1046M1391.4,1045.6 1393.9,1045.4 1396.5,1045.2 1396.6,1045.2M1408.3,1044.1 1410.3,1043.9 1412.9,1043.7 1415.5,1043.4 1418.1,1043.2 1420.7,1043.1 1423.3,1042.9 1425.8,1042.7 1428.4,1042.5 1431,1042.4 1433.6,1042.2 1436.2,1042 1438.7,1041.9M1450.4,1041 1452.6,1040.8 1455.2,1040.6 1455.6,1040.6M1467.2,1039.6 1469,1039.5 1471.6,1039.3 1474.2,1039 1476.8,1038.8 1479.4,1038.6 1482,1038.4 1484.5,1038.2 1487.1,1037.9 1489.7,1037.7 1492.3,1037.5 1494.9,1037.3 1497.5,1037.1 1497.7,1037.1M1509.3,1036.4 1511.3,1036.3 1513.9,1036.1 1514.5,1036.1M1526.2,1035.6 1528.6,1035.5 1531.2,1035.5 1533.8,1035.4 1536.4,1035.3 1539,1035.3 1541.6,1035.2 1544.2,1035.2 1546.8,1035.1 1549.4,1035.1 1552,1035 1554.6,1034.9 1556.8,1034.9M1568.4,1034.7 1571,1034.7 1573.6,1034.6 1573.6,1034.6M1585.3,1034.5 1587.5,1034.5 1590.1,1034.5 1592.7,1034.5 1595.3,1034.5 1597.8,1034.5 1600.4,1034.5 1603,1034.5 1605.6,1034.5 1608.2,1034.5 1610.8,1034.5 1613.4,1034.5 1615.9,1034.6M1627.6,1034.6 1629.9,1034.6 1632.5,1034.7 1632.8,1034.7M1644.5,1034.8 1646.3,1034.9 1648.9,1034.9 1651.5,1034.9 1654.1,1035 1656.7,1035 1659.3,1035.1 1661.9,1035.1 1664.5,1035.2" stroke="#00f" stroke-width="6.2"/>
</g>
<g class="ce">
<path d="M307.1,1049.5v-14.5M307.1,59.5v14.5M363.6,1049.5v-14.5M363.6,59.5v14.5M420.2,1049.5v-14.5M420.2,59.5v14.5M476.7,1049.5v-14.5M476.7,59.5v14.5M589.9,1049.5v-14.5M589.9,59.5v14.5M646.4,1049.5v-14.5M646.4,59.5v14.5M703,1049.5v-14.5M703,59.5v14.5M759.5,1049.5v-14.5M759.5,59.5v14.5M872.7,1049.5v-14.5M872.7,59.5v14.5M929.2,1049.5v-14.5M929.2,59.5v14.5M985.8,1049.5v-14.5M985.8,59.5v14.5M1042.3,1049.5v-14.5M1042.3,59.5v14.5M1155.5,1049.5v-14.5M1155.5,59.5v14.5M1212,1049.5v-14.5M1212,59.5v14.5M1268.6,1049.5v-14.5M1268.6,59.5v14.5M1325.1,1049.5v-14.5M1325.1,59.5v14.5M1438.3,1049.5v-14.5M1438.3,59.5v14.5M1494.8,1049.5v-14.5M1494.8,59.5v14.5M1551.4,1049.5v-14.5M1551.4,59.5v14.5M1607.9,1049.5v-14.5M1607.9,59.5v14.5" stroke="#000" stroke-width="3" fill="none"/>
<path d="M533.3,1049.5v-28.5M533.3,59.5v28.5M816.1,1049.5v-28.5M816.1,59.5v28.5M1098.9,1049.5v-28.5M1098.9,59.5v28.5M1381.7,1049.5v-28.5M1381.7,59.5v28.5" stroke="#000" stroke-width="4" fill="none"/>
<path d="M250.5,1009.9h14.5M1664.5,1009.9h-14.5M250.5,970.3h14.5M1664.5,970.3h-14.5M250.5,930.7h14.5M1664.5,930.7h-14.5M250.5,891.1h14.5M1664.5,891.1h-14.5M250.5,811.9h14.5M1664.5,811.9h-14.5M250.5,772.3h14.5M1664.5,772.3h-14.5M250.5,732.7h14.5M1664.5,732.7h-14.5M250.5,693.1h14.5M1664.5,693.1h-14.5M250.5,613.9h14.5M1664.5,613.9h-14.5M250.5,574.3h14.5M1664.5,574.3h-14.5M250.5,534.7h14.5M1664.5,534.7h-14.5M250.5,495.1h14.5M1664.5,495.1h-14.5M250.5,415.9h14.5M1664.5,415.9h-14.5M250.5,376.3h14.5M1664.5,376.3h-14.5M250.5,336.7h14.5M1664.5,336.7h-14.5M250.5,297.1h14.5M1664.5,297.1h-14.5M250.5,217.9h14.5M1664.5,217.9h-14.5M250.5,178.3h14.5M1664.5,178.3h-14.5M250.5,138.7h14.5M1664.5,138.7h-14.5M250.5,99.1h14.5M1664.5,99.1h-14.5" stroke="#000" stroke-width="3" fill="none"/>
<path d="M250.5,851.5h28.5M1664.5,851.5h-28.5M250.5,653.5h28.5M1664.5,653.5h-28.5M250.5,455.5h28.5M1664.5,455.5h-28.5M250.5,257.5h28.5M1664.5,257.5h-28.5" stroke="#000" stroke-width="3" fill="none"/>
<rect x="250.5" y="59.5" width="1414.0" height="990.0" fill="none" stroke="#000" stroke-width="3"/>
</g>
<text transform="translate(238.5,82.9) scale(1,1.05)" font-size="70" text-anchor="end" xml:space="preserve" >1</text>
<text transform="translate(238.5,280.9) scale(1,1.05)" font-size="70" text-anchor="end" xml:space="preserve" >0.8</text>
<text transform="translate(238.5,478.9) scale(1,1.05)" font-size="70" text-anchor="end" xml:space="preserve" >0.6</text>
<text transform="translate(238.5,676.9) scale(1,1.05)" font-size="70" text-anchor="end" xml:space="preserve" >0.4</text>
<text transform="translate(238.5,874.9) scale(1,1.05)" font-size="70" text-anchor="end" xml:space="preserve" >0.2</text>
<text transform="translate(238.5,1072.9) scale(1,1.05)" font-size="70" text-anchor="end" xml:space="preserve" >0</text>
<text transform="translate(250.9,1111.8) scale(1,1.06)" font-size="70" text-anchor="middle" xml:space="preserve" >0</text>
<text transform="translate(533.7,1111.8) scale(1,1.06)" font-size="70" text-anchor="middle" xml:space="preserve" >0.5</text>
<text transform="translate(816.5,1111.8) scale(1,1.06)" font-size="70" text-anchor="middle" xml:space="preserve" >1</text>
<text transform="translate(1099.3,1111.8) scale(1,1.06)" font-size="70" text-anchor="middle" xml:space="preserve" >1.5</text>
<text transform="translate(1382.1,1111.8) scale(1,1.06)" font-size="70" text-anchor="middle" xml:space="preserve" >2</text>
<text transform="translate(1664.9,1111.8) scale(1,1.06)" font-size="70" text-anchor="middle" xml:space="preserve" >2.5</text>
<text transform="translate(958.4,1186.5) scale(1.015,1.04)" font-size="88" text-anchor="middle" xml:space="preserve" >t / ps</text>
<text transform="translate(117.9,954.7) rotate(-90) scale(1,1.02)" font-size="88" text-anchor="start" letter-spacing="0.3" xml:space="preserve" >Population of state |1&gt;</text>
<g class="ce">
<rect x="447" y="107" width="464" height="289" fill="#fff"/>
<path d="M447,107h464v289h-464z M450,111v281h458v-281z" fill="#000" fill-rule="evenodd"/>
<path d="M464,150H521.7" stroke="#000" stroke-width="6" fill="none"/>
<path d="M464,217.7H521.7" stroke="#f00" stroke-width="6" fill="none" stroke-dasharray="5 12"/>
<path d="M464,285.3H521.7" stroke="#0f0" stroke-width="6" fill="none" stroke-dasharray="31 11"/>
<path d="M464,353H521.7" stroke="#00f" stroke-width="6" fill="none" stroke-dasharray="5 12 31 40"/>
</g>
<text transform="translate(563,156) scale(0.9935,1.03)" font-size="50" text-anchor="start" xml:space="preserve" >Γ<tspan font-size="35.5" dy="19.2">0</tspan><tspan dy="-19.2"> </tspan><tspan font-weight="bold" dy="4">=</tspan><tspan dy="-4"> 0.414 μeV</tspan></text>
<text transform="translate(563,223.8) scale(0.9935,1.03)" font-size="50" text-anchor="start" xml:space="preserve" >Γ<tspan font-size="35.5" dy="19.2">0</tspan><tspan dy="-19.2"> </tspan><tspan font-weight="bold" dy="4">=</tspan><tspan dy="-4"> 0.041 μeV</tspan></text>
<text transform="translate(563,291.6) scale(0.9935,1.03)" font-size="50" text-anchor="start" xml:space="preserve" >Γ<tspan font-size="35.5" dy="19.2">0</tspan><tspan dy="-19.2"> </tspan><tspan font-weight="bold" dy="4">=</tspan><tspan dy="-4"> 0.004 μeV</tspan></text>
<text transform="translate(563,359.4) scale(0.9935,1.03)" font-size="50" text-anchor="start" xml:space="preserve" >Γ<tspan font-size="35.5" dy="19.2">0</tspan><tspan dy="-19.2"> </tspan><tspan font-weight="bold" dy="4">=</tspan><tspan dy="-4"> 0.0008 μeV</tspan></text>
<g class="ce" fill="none">
<rect x="1063.5" y="130.5" width="565.0" height="353.0" fill="#fff" stroke="none"/>
<path d="M1065,130.5 L1067.2,474.7 L1071.5,196 L1075.7,445.1 L1080,185.9 L1084.2,462.6 L1088.5,236.6 L1092.7,440.3 L1096.9,215 L1101.2,455.6 L1105.4,259.4 L1109.7,429.9 L1113.9,237.8 L1118.1,445.7 L1122.4,276.1 L1126.6,425.2 L1130.8,257.9 L1135.1,437 L1139.3,298.2 L1143.6,414.2 L1147.8,278.8 L1152,432.7 L1156.3,318.6 L1160.5,417.5 L1164.8,295.2 L1169,430.9 L1173.2,327.4 L1177.5,413.7 L1181.7,305.7 L1186,427.3 L1190.2,336.7 L1194.5,411.8 L1198.7,313.4 L1202.9,423.9 L1207.2,342.8 L1211.4,409.4 L1215.7,319.6 L1219.9,422.8 L1224.1,347.2 L1228.4,408.3 L1232.6,324.5 L1236.8,422.1 L1241.1,351.2 L1245.3,407.5 L1249.6,329.1 L1253.8,420.7 L1258,356.3 L1262.3,404.2 L1266.5,334.5 L1270.8,410.8 L1275,360.4 L1279.2,397.2 L1283.5,338.7 L1287.7,408.7 L1292,362.6 L1296.2,396.3 L1300.5,341 L1304.7,407.6 L1308.9,364.1 L1313.2,395 L1317.4,342.9 L1321.7,405.7 L1325.9,365.6 L1330.1,394.3 L1334.4,346 L1338.6,403.7 L1342.8,369.7 L1347.1,391.3 L1351.3,351.5 L1355.6,402.3 L1359.8,372.5 L1364,390.9 L1368.3,353.4 L1372.5,401.6 L1376.8,373.4 L1381,390.8 L1385.2,355.1 L1389.5,401 L1393.7,375.2 L1398,391.1 L1402.2,358.4 L1406.5,400.3 L1410.7,378.4 L1414.9,390.3 L1419.2,362.4 L1423.4,399 L1427.7,381.5 L1431.9,389.3 L1436.1,365.7 L1440.4,397.5 L1444.6,383.7 L1448.8,387.8 L1453.1,368.4 L1457.3,395.8 L1461.6,385.5 L1465.8,386.8 L1470,370.5 L1474.3,394 L1478.5,386.4 L1482.8,385.3 L1487,371.3 L1491.2,392.1 L1495.5,385.9 L1499.7,383.9 L1504,371.7 L1508.2,390.1 L1512.5,384.3 L1516.7,382.6 L1520.9,371.8 L1525.2,388.1 L1529.4,383.1 L1533.7,381.7 L1537.9,371.8 L1542.1,386.9 L1546.4,382.4 L1550.6,381.1 L1554.8,371.8 L1559.1,386.4 L1563.3,382.2 L1567.6,380.9 L1571.8,371.8 L1576,386 L1580.3,381.7 L1584.5,380.5 L1588.8,371.9 L1593,384.7 L1597.2,380.8 L1601.5,379.5 L1605.7,372.2 L1610,383.3 L1614.2,380.1 L1618.5,379.3 L1622.7,372.7 L1626.9,383.2" stroke="#000" stroke-width="6.6" stroke-linejoin="bevel"/>
<path d="M1091.8,483.5v-14.5M1091.8,130.5v14.5M1120,483.5v-14.5M1120,130.5v14.5M1148.2,483.5v-14.5M1148.2,130.5v14.5M1176.5,483.5v-14.5M1176.5,130.5v14.5M1233,483.5v-14.5M1233,130.5v14.5M1261.2,483.5v-14.5M1261.2,130.5v14.5M1289.5,483.5v-14.5M1289.5,130.5v14.5M1317.8,483.5v-14.5M1317.8,130.5v14.5M1374.2,483.5v-14.5M1374.2,130.5v14.5M1402.5,483.5v-14.5M1402.5,130.5v14.5M1430.8,483.5v-14.5M1430.8,130.5v14.5M1459,483.5v-14.5M1459,130.5v14.5M1515.5,483.5v-14.5M1515.5,130.5v14.5M1543.8,483.5v-14.5M1543.8,130.5v14.5M1572,483.5v-14.5M1572,130.5v14.5M1600.2,483.5v-14.5M1600.2,130.5v14.5" stroke="#000" stroke-width="3" fill="none"/>
<path d="M1204.8,483.5v-28.5M1204.8,130.5v28.5M1346,483.5v-28.5M1346,130.5v28.5M1487.2,483.5v-28.5M1487.2,130.5v28.5" stroke="#000" stroke-width="3" fill="none"/>
<path d="M1063.5,448.2h14.5M1628.5,448.2h-14.5M1063.5,377.6h14.5M1628.5,377.6h-14.5M1063.5,307h14.5M1628.5,307h-14.5M1063.5,236.4h14.5M1628.5,236.4h-14.5M1063.5,165.8h14.5M1628.5,165.8h-14.5" stroke="#000" stroke-width="3" fill="none"/>
<path d="M1063.5,412.9h28.5M1628.5,412.9h-28.5M1063.5,342.3h28.5M1628.5,342.3h-28.5M1063.5,271.7h28.5M1628.5,271.7h-28.5M1063.5,201.1h28.5M1628.5,201.1h-28.5" stroke="#000" stroke-width="3" fill="none"/>
<rect x="1063.5" y="130.5" width="565.0" height="353.0" fill="none" stroke="#000" stroke-width="3"/>
<rect x="1147" y="164" width="439" height="86" fill="#fff"/>
<path d="M1147,164h439v86h-439z M1150,167v80h433v-80z" fill="#000" fill-rule="evenodd"/>
<path d="M1163.7,205.7H1221.3" stroke="#000" stroke-width="6"/>
</g>
<text transform="translate(1051,146.4) scale(1.01,1.06)" font-size="45" text-anchor="end" xml:space="preserve" >1</text>
<text transform="translate(1051,217) scale(1.01,1.06)" font-size="45" text-anchor="end" xml:space="preserve" >0.8</text>
<text transform="translate(1051,287.6) scale(1.01,1.06)" font-size="45" text-anchor="end" xml:space="preserve" >0.6</text>
<text transform="translate(1051,358.2) scale(1.01,1.06)" font-size="45" text-anchor="end" xml:space="preserve" >0.4</text>
<text transform="translate(1051,428.8) scale(1.01,1.06)" font-size="45" text-anchor="end" xml:space="preserve" >0.2</text>
<text transform="translate(1051,499.4) scale(1.01,1.06)" font-size="45" text-anchor="end" xml:space="preserve" >0</text>
<text transform="translate(1063.9,528.8) scale(0.99,1.06)" font-size="45" text-anchor="middle" xml:space="preserve" >0</text>
<text transform="translate(1205.2,528.8) scale(0.99,1.06)" font-size="45" text-anchor="middle" xml:space="preserve" >0.05</text>
<text transform="translate(1346.4,528.8) scale(0.99,1.06)" font-size="45" text-anchor="middle" xml:space="preserve" >0.1</text>
<text transform="translate(1487.7,528.8) scale(0.99,1.06)" font-size="45" text-anchor="middle" xml:space="preserve" >0.15</text>
<text transform="translate(1628.9,528.8) scale(0.99,1.06)" font-size="45" text-anchor="middle" xml:space="preserve" >0.2</text>
<text transform="translate(1346.9,575.8) scale(1,1.02)" font-size="48.5" text-anchor="middle" xml:space="preserve" >t / ps</text>
<text transform="translate(969.5,538) rotate(-90) scale(1,1.02)" font-size="48.5" text-anchor="start" letter-spacing="0.74" xml:space="preserve" >Population of state |1&gt;</text>
<text transform="translate(1262.9,213.5) scale(0.9945,1.03)" font-size="50" text-anchor="start" xml:space="preserve" >Γ<tspan font-size="35.5" dy="19.2">0</tspan><tspan dy="-19.2"> </tspan><tspan font-weight="bold" dy="4">=</tspan><tspan dy="-4"> 41.36 μeV</tspan></text>
<g class="ce" fill="none" stroke-linejoin="round">
<path d="M263.0,2225.5 L1669.5,2200.9" stroke="#000" stroke-width="6"/>
<path d="M263,2224.5 263.1,2224.5M269.9,2222.8 271,2221.6 272.4,2220.1 273.8,2218.8 275.2,2217.7 276.6,2216.9 278,2216.4 279.4,2216.3 280.8,2216.4 282.2,2216.8 283.6,2217.4 285,2218.1M291.4,2220.1 292.5,2220 294,2219.5 295.4,2218.8 296.8,2217.9 298.2,2216.8 299.6,2215.7 301,2214.6 302.4,2213.7 303.8,2213 305.2,2212.5 306.6,2212.4 307.1,2212.4M312.9,2215 314.1,2215.8 315.5,2216.7 316.9,2217.4 318.3,2218 319.7,2218.3 321.2,2218.2 322.6,2217.9 324,2217.3 325.4,2216.4 326.8,2215.4 328.2,2214.4 328.8,2213.9M334.4,2211.1 335.7,2211.1 337.1,2211.3 338.5,2211.9 339.9,2212.6 341.3,2213.5 342.7,2214.5 344.1,2215.4 345.5,2216.2 346.9,2216.8 348.4,2217.1 349.8,2217.1 351.2,2216.9 351.3,2216.8M356.6,2213.6 357.7,2212.8 359.1,2211.8 360.5,2211 362,2210.4 363.4,2210.1 364.8,2210.1 366.2,2210.4 367.6,2211 369,2211.8 370.4,2212.7 371.8,2213.6 372.5,2214.1M378.9,2216.1 380.2,2215.7 381.7,2215.1 383.1,2214.3 384.5,2213.3 385.9,2212.2 387.3,2211.2 388.7,2210.3 390.1,2209.6 391.5,2209.2 392.9,2209 394.3,2209.2 394.9,2209.3M400.3,2212.4 401.4,2213.1 402.8,2214 404.2,2214.6 405.6,2215 407,2215.2 408.4,2215 409.8,2214.5 411.2,2213.8 412.6,2212.8 414,2211.8 415.4,2210.8 416.1,2210.3M422.4,2208.2 423.4,2208.4 424.8,2208.9 426.2,2209.7 427.6,2210.6 429,2211.6 430.4,2212.5 431.8,2213.4 433.2,2214 434.7,2214.4 436.1,2214.5 437.5,2214.2 438.9,2213.7 438.9,2213.7M444,2210.3 445,2209.7 446.4,2208.8 447.8,2208.1 449.2,2207.7 450.6,2207.6 452,2207.8 453.4,2208.3 454.8,2209.1 456.2,2210 457.6,2210.9 459,2211.9 459.9,2212.5M466.5,2213.7 467.5,2213.3 468.9,2212.6 470.3,2211.7 471.7,2210.7 473.1,2209.6 474.5,2208.7 475.9,2207.9 477.3,2207.4 478.7,2207.1 480.1,2207.2 481.5,2207.6 482.6,2208M487.7,2211.3 489.1,2212.1 490.5,2212.8 491.9,2213.2 493.3,2213.4 494.7,2213.2 496.1,2212.8 497.5,2212.1 498.9,2211.2 500.3,2210.3 501.7,2209.4 503.1,2208.5 503.9,2208.1M510.7,2207.7 512,2208.2 513.4,2208.9 514.8,2209.7 516.3,2210.5 517.7,2211.2 519.1,2211.8 520.5,2212.2 521.9,2212.3 523.3,2212.2 524.7,2211.8 526.1,2211.3 527.5,2210.6 527.7,2210.5M533.4,2207.6 534.5,2207.3 536,2207.1 537.4,2207 538.8,2207.2 540.2,2207.6 541.6,2208.1 543,2208.7 544.4,2209.4 545.8,2210 547.2,2210.5 548.6,2210.8 550,2210.9 551.4,2210.9 552.1,2210.8M558,2208.2 559.4,2207.5 560.8,2206.8 562.2,2206.2 563.6,2205.8 565,2205.5 566.4,2205.4 567.8,2205.5 569.3,2205.7 570.7,2206.1 572.1,2206.5 573.5,2207 574.9,2207.4 576.3,2207.8 576.3,2207.8M583.7,2207.2 584.7,2206.8 586.1,2206.3 587.5,2205.7 588.9,2205.1 590.4,2204.6 591.8,2204.3 593.2,2204 594.6,2203.9 596,2204 597.4,2204.2 598.8,2204.4 600.2,2204.8 601.6,2205.2 602.4,2205.4M609.9,2206.1 611,2205.9 612.4,2205.6 613.8,2205.1 615.2,2204.7 616.6,2204.2 618,2203.8 619.4,2203.4 620.8,2203.1 622.2,2202.9 623.7,2202.8 625.1,2202.9 626.5,2203 627.9,2203.3 629.3,2203.5 629.4,2203.6M636.9,2204.5 638.2,2204.5 639.6,2204.3 641,2204 642.4,2203.6 643.8,2203.3 645.2,2202.9 646.6,2202.5 648,2202.1 649.4,2201.9 650.9,2201.7 652.3,2201.6 653.7,2201.6 655.1,2201.7 656.5,2201.9 657,2202M664.5,2202.9 665.9,2202.9 667.3,2202.8 668.7,2202.6 670.1,2202.3 671.5,2202 672.9,2201.7 674.3,2201.4 675.7,2201.1 677.1,2200.8 678.5,2200.6 679.9,2200.4 681.3,2200.4 682.7,2200.4 684.2,2200.5 685.3,2200.6M693,2201.3 694,2201.3 695.4,2201.2 696.8,2201.1 698.2,2200.9 699.6,2200.7 701,2200.4 702.4,2200.1 703.9,2199.8 705.3,2199.6 706.7,2199.4 708.1,2199.2 709.5,2199.1 710.9,2199.1 712.3,2199.1 713.7,2199.2 714.1,2199.2M722,2199.8 723.1,2199.8 724.5,2199.7 725.9,2199.6 727.3,2199.4 728.7,2199.2 730.1,2199 731.5,2198.7 732.9,2198.5 734.3,2198.3 735.7,2198.1 737.1,2198 738.6,2197.9 740,2197.9 741.4,2197.9 742.8,2198 743.4,2198M751.5,2198.4 752.6,2198.4 754,2198.3 755.4,2198.1 756.8,2198 758.3,2197.8 759.7,2197.6 761.1,2197.4 762.5,2197.2 763.9,2197 765.3,2196.9 766.7,2196.8 768.1,2196.8 769.5,2196.8 770.9,2196.8 772.3,2196.9 773.2,2196.9M781.4,2197.1 782.6,2197 784,2196.9 785.5,2196.8 786.9,2196.6 788.3,2196.4 789.7,2196.2 791.1,2196.1 792.5,2195.9 793.9,2195.8 795.3,2195.7 796.7,2195.6 798.1,2195.6 799.5,2195.6 800.9,2195.7 802.3,2195.7 803.3,2195.7M811.5,2195.7 812.7,2195.6 814.1,2195.4 815.5,2195.3 816.9,2195.1 818.3,2195 819.7,2194.8 821.1,2194.7 822.5,2194.6 823.9,2194.5 825.3,2194.4 826.7,2194.4 828.1,2194.4 829.5,2194.4 830.9,2194.4 832.4,2194.4 833.6,2194.4M841.8,2194.2 843.1,2194.1 844.5,2193.9 846,2193.8 847.4,2193.6 848.8,2193.5 850.2,2193.4 851.6,2193.3 853,2193.2 854.4,2193.1 855.8,2193.1 857.2,2193.1 858.6,2193.1 860,2193.1 861.4,2193.1 862.8,2193.1 864.1,2193.1M872.2,2192.7 873.2,2192.6 874.6,2192.5 876,2192.3 877.4,2192.2 878.8,2192.1 880.2,2192 881.6,2191.9 883,2191.9 884.4,2191.8 885.8,2191.8 887.2,2191.8 888.6,2191.8 890,2191.8 891.4,2191.8 892.9,2191.7 894.3,2191.7 894.7,2191.7M902.7,2191.2 903.6,2191.1 905,2191 906.5,2190.9 907.9,2190.8 909.3,2190.7 910.7,2190.6 912.1,2190.6 913.5,2190.5 914.9,2190.5 916.3,2190.5 917.7,2190.5 919.1,2190.4 920.5,2190.4 921.9,2190.4 923.3,2190.4 924.7,2190.3 925.2,2190.3M933.1,2189.8 934.1,2189.7 935.5,2189.6 936.9,2189.5 938.3,2189.4 939.8,2189.3 941.2,2189.3 942.6,2189.2 944,2189.2 945.4,2189.2 946.8,2189.1 948.2,2189.1 949.6,2189.1 951,2189 952.4,2189 953.8,2188.9 955.2,2188.9 955.7,2188.8M963.6,2188.3 964.6,2188.2 966,2188.1 967.4,2188.1 968.8,2188 970.2,2187.9 971.6,2187.9 973.1,2187.8 974.5,2187.8 975.9,2187.8 977.3,2187.7 978.7,2187.7 980.1,2187.6 981.5,2187.6 982.9,2187.5 984.3,2187.5 985.7,2187.4 986.1,2187.4M994,2186.8 995.1,2186.8 996.5,2186.7 997.9,2186.6 999.3,2186.6 1000.7,2186.5 1002.1,2186.5 1003.5,2186.5 1004.9,2186.4 1006.3,2186.4 1007.8,2186.3 1009.2,2186.3 1010.6,2186.2 1012,2186.2 1013.4,2186.1 1014.8,2186.1 1016.2,2186 1016.6,2186M1024.6,2185.5 1026,2185.5 1027.5,2185.4 1028.9,2185.4 1030.3,2185.3 1031.7,2185.3 1033.1,2185.3 1034.5,2185.2 1035.9,2185.2 1037.3,2185.1 1038.7,2185.1 1040.1,2185.1 1041.5,2185 1042.9,2184.9 1044.3,2184.9 1045.7,2184.8 1047.2,2184.7 1047.3,2184.7M1055.3,2184.3 1056.5,2184.2 1057.9,2184.2 1059.3,2184.1 1060.8,2184.1 1062.2,2184 1063.6,2184 1065,2183.9 1066.4,2183.9 1067.8,2183.8 1069.2,2183.7 1070.6,2183.7 1072,2183.6 1073.4,2183.5 1074.8,2183.4 1076.2,2183.3 1077.6,2183.2 1077.7,2183.2M1085.6,2182.6 1087,2182.6 1088.4,2182.5 1089.8,2182.4 1091.2,2182.3 1092.6,2182.3 1094,2182.2 1095.5,2182.1 1096.9,2182 1098.3,2181.9 1099.7,2181.9 1101.1,2181.8 1102.5,2181.7 1103.9,2181.6 1105.3,2181.5 1106.7,2181.4 1107.8,2181.4M1115.8,2181 1117,2180.9 1118.4,2180.9 1119.8,2180.8 1121.3,2180.7 1122.7,2180.7 1124.1,2180.6 1125.5,2180.6 1126.9,2180.5 1128.3,2180.5 1129.7,2180.4 1131.1,2180.3 1132.5,2180.3 1133.9,2180.2 1135.3,2180.1 1136.7,2180 1138.1,2180 1138.3,2180M1146.4,2179.6 1147.5,2179.6 1148.9,2179.5 1150.3,2179.5 1151.7,2179.4 1153.1,2179.3 1154.5,2179.3 1156,2179.2 1157.4,2179.1 1158.8,2179.1 1160.2,2179 1161.6,2178.9 1163,2178.8 1164.4,2178.8 1165.8,2178.7 1167.2,2178.6 1168.6,2178.5 1168.8,2178.5M1176.8,2178.1 1178,2178 1179.4,2178 1180.8,2177.9 1182.2,2177.8 1183.6,2177.7 1185,2177.7 1186.4,2177.6 1187.8,2177.5 1189.3,2177.4 1190.7,2177.3 1192.1,2177.2 1193.5,2177.2 1194.9,2177.1 1196.3,2177 1197.7,2176.9 1199,2176.8M1207,2176.4 1208,2176.3 1209.4,2176.3 1210.8,2176.2 1212.2,2176.1 1213.6,2176 1215,2176 1216.5,2175.9 1217.9,2175.8 1219.3,2175.7 1220.7,2175.6 1222.1,2175.6 1223.5,2175.5 1224.9,2175.4 1226.3,2175.3 1227.7,2175.2 1229.1,2175.2 1229.3,2175.2M1237.3,2174.8 1238.5,2174.7 1239.9,2174.7 1241.3,2174.6 1242.7,2174.5 1244.1,2174.4 1245.5,2174.4 1246.9,2174.3 1248.3,2174.2 1249.8,2174.2 1251.2,2174.1 1252.6,2174 1254,2173.9 1255.4,2173.9 1256.8,2173.8 1258.2,2173.7 1259.6,2173.7 1259.7,2173.7M1267.8,2173.3 1269,2173.2 1270.4,2173.2 1271.8,2173.1 1273.2,2173 1274.6,2173 1276,2172.9 1277.4,2172.8 1278.8,2172.8 1280.2,2172.7 1281.6,2172.6 1283.1,2172.6 1284.5,2172.5 1285.9,2172.4 1287.3,2172.4 1288.7,2172.3 1290.1,2172.2 1290.1,2172.2M1298.3,2171.9 1299.5,2171.8 1300.9,2171.7 1302.3,2171.7 1303.7,2171.6 1305.1,2171.5 1306.5,2171.5 1307.9,2171.4 1309.3,2171.3 1310.7,2171.3 1312.1,2171.2 1313.5,2171.2 1314.9,2171.1 1316.4,2171 1317.8,2171 1319.2,2170.9 1320.6,2170.9 1320.7,2170.9M1328.8,2170.5 1330,2170.4 1331.4,2170.4 1332.8,2170.3 1334.2,2170.3 1335.6,2170.2 1337,2170.1 1338.4,2170.1 1339.8,2170 1341.2,2169.9 1342.6,2169.9 1344,2169.8 1345.4,2169.7 1346.8,2169.7 1348.2,2169.6 1349.6,2169.5 1351.1,2169.5 1351.2,2169.4M1359.3,2169 1360.4,2169 1361.8,2168.9 1363.2,2168.8 1364.7,2168.8 1366.1,2168.7 1367.5,2168.6 1368.9,2168.5 1370.3,2168.4 1371.7,2168.4 1373.1,2168.3 1374.5,2168.2 1375.9,2168.1 1377.3,2168 1378.7,2168 1380.1,2167.9 1381.5,2167.8M1389.5,2167.4 1390.9,2167.3 1392.3,2167.2 1393.7,2167.1 1395.1,2167 1396.5,2167 1398,2166.9 1399.4,2166.8 1400.8,2166.7 1402.2,2166.7 1403.6,2166.6 1405,2166.5 1406.4,2166.4 1407.8,2166.4 1409.2,2166.3 1410.6,2166.2 1411.8,2166.2M1419.8,2165.7 1420.9,2165.7 1422.3,2165.6 1423.7,2165.5 1425.2,2165.4 1426.6,2165.4 1428,2165.3 1429.4,2165.2 1430.8,2165.1 1432.2,2165.1 1433.6,2165 1435,2164.9 1436.4,2164.8 1437.8,2164.8 1439.2,2164.7 1440.6,2164.6 1442,2164.6 1442.1,2164.6M1450.1,2164.1 1451.4,2164.1 1452.8,2164 1454.2,2163.9 1455.6,2163.8 1457,2163.8 1458.5,2163.7 1459.9,2163.6 1461.3,2163.6 1462.7,2163.5 1464.1,2163.4 1465.5,2163.3 1466.9,2163.3 1468.3,2163.2 1469.7,2163.1 1471.1,2163.1 1472.4,2163M1480.5,2162.6 1481.9,2162.5 1483.3,2162.4 1484.7,2162.4 1486.1,2162.3 1487.5,2162.2 1488.9,2162.2 1490.3,2162.1 1491.8,2162 1493.2,2161.9 1494.6,2161.9 1496,2161.8 1497.4,2161.7 1498.8,2161.7 1500.2,2161.6 1501.6,2161.5 1502.8,2161.5M1510.9,2161.1 1511.9,2161 1513.3,2160.9 1514.7,2160.9 1516.1,2160.8 1517.5,2160.7 1519,2160.7 1520.4,2160.6 1521.8,2160.5 1523.2,2160.5 1524.6,2160.4 1526,2160.3 1527.4,2160.2 1528.8,2160.2 1530.2,2160.1 1531.6,2160 1533,2160 1533.2,2160M1541.3,2159.6 1542.4,2159.5 1543.8,2159.4 1545.2,2159.4 1546.6,2159.3 1548,2159.2 1549.4,2159.2 1550.8,2159.1 1552.3,2159 1553.7,2158.9 1555.1,2158.9 1556.5,2158.8 1557.9,2158.7 1559.3,2158.7 1560.7,2158.6 1562.1,2158.5 1563.5,2158.5 1563.7,2158.5M1571.8,2158.1 1572.9,2158 1574.3,2158 1575.7,2157.9 1577.1,2157.8 1578.5,2157.8 1579.9,2157.7 1581.3,2157.6 1582.7,2157.6 1584.1,2157.5 1585.6,2157.4 1587,2157.4 1588.4,2157.3 1589.8,2157.2 1591.2,2157.2 1592.6,2157.1 1594,2157.1 1594.2,2157.1M1602.3,2156.7 1603.4,2156.7 1604.8,2156.6 1606.2,2156.5 1607.6,2156.5 1609,2156.4 1610.4,2156.4 1611.8,2156.3 1613.2,2156.2 1614.6,2156.2 1616,2156.1 1617.4,2156.1 1618.8,2156 1620.3,2155.9 1621.7,2155.9 1623.1,2155.8 1624.5,2155.7 1624.8,2155.7M1632.9,2155.4 1633.9,2155.3 1635.3,2155.3 1636.7,2155.2 1638.1,2155.1 1639.5,2155.1 1640.9,2155 1642.3,2154.9 1643.7,2154.9 1645.1,2154.8 1646.5,2154.7 1647.9,2154.7 1649.3,2154.6 1650.7,2154.5 1652.1,2154.4 1653.6,2154.4 1655,2154.3 1655.2,2154.3M1663.3,2153.8 1664.3,2153.8 1665.7,2153.7 1667.2,2153.6 1668.6,2153.6 1669.5,2153.5" stroke="#f00" stroke-width="6"/>
<path d="M266.2,2223.2 267,2222.6 267.8,2222 268.6,2221.5 269.4,2220.9 270.2,2220.3M276.1,2216.2 278.3,2214.6 280.1,2213.4M286,2209.3 288.1,2207.9 290,2206.6M295.8,2202.3 297.8,2200.8 299.7,2199.4M305.7,2195.4 307.8,2194.4 310.4,2193.4M318.5,2191.9 320.6,2192.9 322.7,2194.6M327.8,2199.5 329.6,2201.4 331,2203M335.9,2208.2 336.4,2208.6 337.1,2209.3 337.9,2210.1 338.6,2210.8 339.3,2211.5M345.5,2215.3 347.9,2215.7 350.9,2216 351.7,2216M359.4,2213.7 361.2,2212.8 363.6,2211.2 363.6,2211.2M369,2206.5 369.7,2205.9 370.4,2205.3 371.2,2204.6 372,2204 372.7,2203.4M378,2198.8 378.7,2198.2 379.5,2197.6 380.2,2196.9 381,2196.3 381.7,2195.7M387.3,2191.3 389.8,2189.9 391.9,2189M399.3,2186.5 402.1,2186.2 404.9,2186.6 405.4,2186.7M412.4,2189.6 414.2,2190.5 416.7,2192 416.8,2192.1M422.3,2196.5 424.5,2198.2 426.3,2199.4M432.4,2203.3 434.7,2204.3 437.3,2205.2M446,2205.6 448.3,2205.1 451,2204.2 451.3,2204.1M457.2,2199.9 459.2,2198.4 461,2197M466.5,2192.5 468.4,2191 470.4,2189.5M476.4,2185.5 478.4,2184.5 481,2183.4M488.4,2180.8 490.7,2180.4 493.5,2180.2 494.5,2180.3M501.8,2183 503.8,2184 506.3,2185.3M512.3,2189.4 514.6,2190.9 516.5,2192M523.2,2195.2 525.5,2195.9 528.4,2196.3 529,2196.3M538.2,2195.9 540.1,2195.1 542.8,2194 542.9,2193.9M549.1,2190 551.1,2188.6 553.1,2187.2M559.1,2183.3 561,2182 563.4,2180.7M569.8,2177.2 572.5,2176 574.8,2175.3M583.7,2174.4 586.1,2174.7 589,2175.3 589.5,2175.4M596.4,2178.4 598.9,2179.8 600.8,2180.8M607.2,2184.5 609.4,2185.6 611.9,2186.6M620.5,2188 622.8,2187.8 625.8,2187.2 626.4,2187.1M633.7,2184.4 635.8,2183.3 638.1,2182M644.4,2178.3 645.2,2177.8 646.1,2177.3 646.9,2176.7 647.7,2176.2 648.6,2175.7M655.2,2172.3 657.4,2171.2 659.9,2170.2M667.6,2167.9 669.7,2167.8 672.7,2167.9 674.2,2167.9M682.5,2169.6 685.1,2170.8 687.2,2171.7M694.1,2174.8 696,2175.8 698.8,2176.9 698.8,2176.9M707.2,2178.5 709.4,2178.6 712.4,2178.3 713.4,2178.2M721.4,2176.1 723.8,2175.2 726.2,2174.1M733.1,2171 735.5,2169.9 737.7,2168.8M744.7,2165.8 747.3,2164.8 749.6,2164M757.5,2161.8 759.7,2161.5 762.7,2161.5 763.9,2161.6M773,2162.5 775.4,2163.2 778.2,2164 778.3,2164M785.9,2166.4 788.7,2167.4 791,2168.1M800.1,2169 802.3,2169 805.3,2168.7 806.4,2168.5M814.2,2166.3 816.6,2165.4 819.1,2164.4M826.1,2161.4 828.5,2160.3 830.8,2159.3M838.2,2156.7 840.6,2155.9 843.4,2155.1M852.2,2153.9 854.2,2153.8 857.2,2153.9 858.6,2154.1M867,2155.7 869.7,2156.5 872.2,2157.3M880.2,2159.3 882.2,2159.7 885.2,2159.8 886.5,2159.8M896.1,2159.4 898.9,2158.7 901.5,2158M909,2155.5 911.1,2154.6 913.7,2153.4M921,2150.7 923.2,2150.1 926,2149.2 926.3,2149.2M934.3,2147.2 936.6,2146.8 939.6,2146.5 940.3,2146.4M949.9,2146.4 952.3,2146.9 955.2,2147.5 955.5,2147.6M963.6,2149.5 965.9,2150.1 968.8,2150.6 969.3,2150.6M979,2150.7 981.6,2150.5 984.6,2150.1 985.1,2150M993.5,2148.4 996.1,2147.5 998.6,2146.7M1006,2144.1 1008.3,2143.4 1011.1,2142.4M1019,2140.3 1021.7,2139.7 1024.6,2139.1M1033.8,2138.5 1036.4,2138.7 1039.3,2139 1040,2139.1M1049,2140.1 1051.2,2140.3 1054.1,2140.6 1055.2,2140.7M1064.8,2141.1 1066.9,2141 1069.9,2140.7 1071.1,2140.6M1080.1,2139.6 1082.6,2139 1085.5,2138.3 1085.6,2138.3M1093.5,2136.2 1096,2135.5 1098.9,2134.8M1107,2132.9 1109.5,2132.3 1112.4,2131.7 1112.5,2131.6M1121.7,2130.8 1124.2,2130.8 1127.2,2130.8 1128.5,2130.8M1138.4,2130.9 1141,2131.2 1143.9,2131.7 1144.4,2131.8M1153.5,2132.6 1155.7,2132.4 1158.7,2132.1 1159.7,2132M1168.4,2130.7 1170.4,2130.4 1173.4,2129.9 1174.2,2129.7M1182.5,2128 1185,2127.4 1187.8,2126.7 1187.9,2126.6M1196,2124.7 1198.4,2124.2 1201.4,2123.6 1201.6,2123.5M1210.7,2122.6 1213.1,2122.6 1216.1,2122.6 1217.5,2122.6M1227.5,2122.6 1229.9,2122.7 1232.9,2122.9 1233.9,2123M1243.4,2123.5 1245.7,2123.4 1248.7,2123.1 1249.7,2123M1258.4,2121.6 1260.4,2121.3 1263.4,2120.8 1264.2,2120.7M1272.5,2119 1275,2118.5 1277.9,2117.8 1278.1,2117.8M1286.3,2116 1288.5,2115.6 1291.4,2115.1 1292.1,2115M1301,2113.9 1303.2,2113.8 1306.2,2113.7 1307.6,2113.7M1317.4,2113.5 1320,2113.5 1323,2113.6 1324.1,2113.6M1333.8,2113.9 1335.9,2113.9 1338.8,2113.8 1340.4,2113.7M1349.4,2112.7 1351.6,2112.4 1354.5,2111.9 1355.3,2111.8M1363.5,2110 1366.1,2109.4 1369,2108.8 1369.1,2108.7M1377.3,2107 1379.7,2106.6 1382.6,2106.1 1383.1,2106M1392,2104.9 1394.4,2104.8 1397.4,2104.8 1398.7,2104.8M1408.7,2104.8 1411.2,2104.8 1414.2,2104.8 1415.5,2104.8M1425.3,2104.6 1428,2104.5 1431,2104.2 1431.7,2104.2M1440.3,2102.8 1442.7,2102.4 1445.6,2101.9 1446.1,2101.8M1454.3,2100 1457.2,2099.5 1460.2,2099.1 1460.2,2099.1M1469,2097.9 1471.9,2097.6 1474.9,2097.3 1475.2,2097.3M1484.3,2096.4 1486.7,2096.2 1489.7,2096 1490.6,2095.9M1499.8,2095.1 1502.5,2095 1505.4,2094.9 1506.4,2094.8M1516.1,2094.6 1518.3,2094.5 1521.2,2094.4 1522.5,2094.2M1531.4,2093.1 1534,2092.7 1536.9,2092.3 1537.3,2092.2M1546,2090.9 1548.7,2090.5 1551.6,2090 1551.9,2090M1560.7,2088.8 1563.3,2088.5 1566.3,2088.2 1566.8,2088.1M1576.1,2087.4 1578.1,2087.3 1581.1,2087.1 1582.5,2087M1592,2086.5 1594.9,2086.3 1597.9,2086.1 1598.4,2086.1M1607.5,2085.2 1609.7,2085 1612.6,2084.7 1613.7,2084.6M1622.8,2083.7 1625.4,2083.4 1628.4,2083 1628.9,2083M1637.7,2081.7 1640.1,2081.4 1643,2081 1643.6,2080.9M1652.3,2079.6 1654.8,2079.2 1657.7,2078.9 1658.3,2078.8M1667.3,2077.7 1667.5,2077.7 1668.5,2077.6 1669.5,2077.5" stroke="#00f" stroke-width="5.6"/>
<path d="M263,2225.5 263.8,2224.9 264.7,2224.3 265.2,2223.9M270.8,2220.1 272.9,2218.5 275.4,2216.8 277.9,2215.1 280.4,2213.3 282.9,2211.6 285.4,2209.8 285.5,2209.8M291,2205.9 292.8,2204.6 295.3,2202.9 295.6,2202.7M301.1,2198.8 303.6,2197.1 305.7,2195.6M311.2,2191.7 313.5,2190.1 316,2188.4 318.5,2186.7 321,2184.9 323.4,2183.2 325.9,2181.4 326,2181.4M331.5,2177.6 333.4,2176.2 335.9,2174.5 336.1,2174.4M341.6,2170.5 343.3,2169.3 345.8,2167.5 346.2,2167.3M351.7,2163.4 354.1,2161.7 356.6,2160 359,2158.2 361.5,2156.5 364,2154.7 366.4,2153M371.9,2149.2 373.9,2147.7 376.4,2146 376.4,2145.9M382,2142 383.8,2140.7 386.3,2139 386.5,2138.8M392.1,2135 393.8,2133.8 396.3,2132.1 398.8,2130.4 401.3,2128.7 403.8,2127 406.3,2125.3 407,2124.9M412.6,2121.1 414.8,2119.8 417.3,2118.1 417.4,2118.1M423.2,2114.5 425.1,2113.3 427.7,2111.8 428.2,2111.6M434.8,2108.8 437.2,2108.2 440.2,2108 443.2,2108.4 446.2,2108.9 449.2,2109.6 452.1,2110.4 455,2111.2 455.5,2111.4M462.3,2114 464.4,2115 467.2,2116.2 467.7,2116.5M473.6,2119.9 475.9,2121.3 478.5,2122.8M484.8,2125.9 486.7,2126.9 489.5,2128.1 492.2,2129.4 495,2130.7 497.7,2131.9 500.5,2133.2 501.9,2133.8M508.5,2136.6 510.8,2137.5 513.6,2138.5 514.2,2138.7M521.2,2141.2 523.3,2141.7 526.3,2141.9 528.2,2141.9M537.4,2141.7 540.4,2141.2 543.3,2140.5 546.3,2139.6 549.2,2138.8 552.1,2138 555,2137.2 557.2,2136.5M564.3,2134.2 566.6,2133.3 569.4,2132.3 570,2132.1M576.6,2129.2 578.7,2128.2 581.4,2126.8 581.8,2126.6M587.7,2123.1 590,2121.6 592.6,2120 595.1,2118.4 597.7,2116.8 600.3,2115.2 602.9,2113.6 603.1,2113.5M608.9,2110 610.7,2108.9 613.2,2107.2 613.6,2106.9M619.3,2103.1 621.6,2101.6 623.9,2100M629.6,2096.3 631.8,2095 634.3,2093.3 636.9,2091.7 639.4,2090.1 642,2088.4 644.5,2086.7 644.8,2086.5M650.5,2082.8 653,2081.2 655.3,2079.8M661.1,2076.1 663.2,2074.8 665.8,2073.2 665.9,2073.2M671.6,2069.5 673.5,2068.3 676.1,2066.7 678.7,2065.2 681.4,2063.8 684.1,2062.5 686.9,2061.2 687.9,2060.7M694.4,2057.9 697.1,2056.8 699.9,2055.7 700,2055.7M706.7,2053 709.4,2052.2 712.4,2051.5 712.9,2051.4M720.8,2049.9 723.3,2049.6 726.4,2049.2 729.4,2048.9 732.4,2048.8 735.4,2048.8 738.5,2048.9 741.5,2049.1 744.2,2049.4M752.7,2050.3 755.6,2050.6 758.6,2051.1 759.5,2051.2M767.2,2053 769.5,2053.5 772.4,2054 773.6,2054.3M781.5,2055.8 784.4,2056.3 787.4,2056.8 790.4,2057.1 793.4,2057.4 796.4,2057.6 799.4,2057.8 802.5,2058 804.2,2058.1M813.2,2058.5 815.6,2058.5 818.6,2058.4 820.7,2058.1M828.7,2056.8 831.6,2056.2 834.5,2055.5 835,2055.3M842.2,2053 844.2,2052.3 847,2051.3 849.9,2050.3 852.7,2049.2 855.6,2048.2 858.4,2047 860.4,2046.2M867,2043.5 869.6,2042.4 872.4,2041.2 872.5,2041.2M879,2038.3 881.6,2037.1 884.2,2035.7M890.3,2032.4 892.2,2031.2 894.9,2029.8 897.6,2028.3 900.3,2026.9 902.9,2025.5 905.7,2024.2 906.6,2023.7M912.9,2020.6 915.7,2019.3 918.3,2018.2M924.9,2015.3 926.8,2014.5 929.5,2013.1 930.1,2012.8M936.3,2009.5 938.4,2008.4 941.1,2007 943.9,2005.7 946.6,2004.4 949.4,2003.2 952.2,2002 953.3,2001.5M959.9,1998.8 962.4,1997.7 965.2,1996.6 965.4,1996.5M972.1,1993.8 974.6,1992.8 977.4,1991.7 977.7,1991.6M984.5,1989 986.9,1988.2 989.8,1987.2 992.6,1986.2 995.5,1985.2 998.4,1984.2 1001.3,1983.3 1003.2,1982.7M1010.9,1981 1013.1,1980.6 1016.1,1980 1017.5,1979.8M1026.1,1978.9 1028.1,1978.8 1031.2,1978.7 1033.5,1978.6M1042.7,1978.4 1045.3,1978.3 1048.4,1978.2 1051.4,1978.2 1054.4,1978.1 1057.5,1978 1060.5,1978 1063.5,1977.9 1066.6,1977.8 1067.1,1977.8M1076.3,1977.5 1078.7,1977.4 1081.7,1977.2 1083.6,1977.1M1092.2,1976.3 1094.8,1976 1097.8,1975.6 1099.1,1975.4M1107.1,1974 1109.7,1973.4 1112.7,1972.7 1115.6,1972 1118.6,1971.3 1121.5,1970.6 1124.5,1969.8 1127.2,1969.1M1134.6,1967 1137.1,1966.3 1140,1965.4 1140.5,1965.2M1147.6,1962.9 1149.6,1962.2 1152.5,1961.2 1153.4,1960.8M1160.3,1958.3 1162.9,1957.4 1165.8,1956.3 1168.6,1955.2 1171.4,1954.2 1174.3,1953 1177.1,1951.9 1178.3,1951.4M1184.8,1948.5 1187.3,1947.5 1190,1946.2 1190.2,1946.1M1196.7,1943.2 1199.3,1942.1 1202,1940.8 1202.1,1940.8M1208.7,1938 1211.3,1936.9 1214.1,1935.7 1216.9,1934.5 1219.7,1933.3 1222.5,1932.2 1225.3,1931 1226.3,1930.6M1232.9,1927.8 1235.6,1926.7 1238.4,1925.6 1238.5,1925.5M1245.2,1922.9 1247.8,1921.9 1250.7,1920.9 1250.9,1920.8M1257.9,1918.4 1260.2,1917.6 1263.1,1916.6 1266,1915.7 1268.9,1914.7 1271.8,1913.8 1274.7,1912.8 1276.7,1912.2M1284,1910.1 1286.3,1909.4 1289.2,1908.6 1290.1,1908.4M1297.7,1906.6 1300,1906.1 1303,1905.5 1304.2,1905.3M1312.2,1903.9 1314.9,1903.4 1317.9,1902.9 1320.9,1902.4 1323.9,1902 1326.9,1901.5 1329.9,1901 1332.9,1900.5 1333.7,1900.4M1342,1899.3 1345,1898.9 1348,1898.5 1348.9,1898.3M1357.1,1897.2 1360,1896.8 1363,1896.3 1363.9,1896.2M1371.9,1894.8 1373.9,1894.4 1376.9,1893.8 1379.8,1893.1 1382.8,1892.4 1385.7,1891.7 1388.6,1890.9 1391.6,1890.1 1392.1,1890M1399.4,1887.9 1402.3,1887 1405.2,1886.2 1405.4,1886.1M1412.6,1883.9 1414.9,1883.2 1417.8,1882.3 1418.6,1882M1425.6,1879.7 1428.3,1878.7 1431.1,1877.7 1434,1876.7 1436.8,1875.6 1439.7,1874.6 1442.5,1873.5 1443.9,1873M1450.7,1870.4 1452.9,1869.6 1455.8,1868.5 1456.4,1868.3M1463.3,1865.8 1465.3,1865 1468.1,1864 1469,1863.6M1475.8,1861 1478.5,1860 1481.3,1858.9 1484.2,1857.8 1487,1856.8 1489.9,1855.7 1492.7,1854.7 1493.9,1854.2M1500.9,1851.7 1503.2,1850.9 1506,1850 1506.7,1849.8M1513.7,1847.4 1516.6,1846.5 1519.5,1845.5 1519.6,1845.5M1526.8,1843.2 1529.1,1842.5 1532,1841.6 1534.9,1840.7 1537.8,1839.8 1540.7,1839 1543.6,1838.1 1545.9,1837.4M1553.2,1835.3 1555.3,1834.6 1558.2,1833.8 1559.2,1833.5M1566.5,1831.4 1568.9,1830.7 1571.8,1829.9 1572.6,1829.7M1580,1827.6 1582.5,1827 1585.4,1826.2 1588.4,1825.5 1591.3,1824.7 1594.3,1824 1597.2,1823.3 1600,1822.7M1607.7,1820.9 1610,1820.4 1613,1819.8 1614.1,1819.5M1621.8,1817.9 1623.9,1817.5 1626.8,1816.8 1628.3,1816.5M1636.1,1814.9 1638.7,1814.4 1641.7,1813.8 1644.7,1813.2 1647.6,1812.6 1650.6,1812 1653.6,1811.5 1656.6,1810.9 1656.9,1810.8M1664.9,1809.3 1665.5,1809.2 1666.5,1809 1667.5,1808.9 1668.5,1808.7 1669.5,1808.5" stroke="#00f" stroke-width="6"/>
<path d="M263,2225.5 265.6,2223.6 268.3,2221.8 270.9,2219.9 273.6,2218.1 275.9,2216.5M281.6,2212.5 284.2,2210.7 286.2,2209.3M291.9,2205.3 293.9,2203.9 296.6,2202 299.2,2200.2 301.9,2198.3 304.5,2196.5 306.8,2194.9M312.4,2190.9 314.2,2189.7 316.9,2187.8 319.5,2186 322.2,2184.1 324.8,2182.3 327.4,2180.5M333,2176.6 335.4,2174.9 337.7,2173.3M343.3,2169.4 345.1,2168.1 347.8,2166.2 350.4,2164.4 353.1,2162.5 355.7,2160.7 358.2,2158.9M363.9,2155 366.3,2153.3 369,2151.4 371.6,2149.6 374.3,2147.7 376.9,2145.9 378.8,2144.5M384.4,2140.6 386.6,2139.1 389.1,2137.3M394.7,2133.4 397.2,2131.7 399.9,2129.8 402.5,2127.9 405.2,2126.1 407.8,2124.2 409.6,2122.9M415.3,2119 417.5,2117.4 420.2,2115.6 422.8,2113.7 425.5,2111.9 428.1,2110 430.2,2108.6M435.9,2104.6 437.8,2103.2 440.5,2101.4 440.5,2101.4M446.1,2097.4 448.4,2095.8 451,2094 453.7,2092.1 456.3,2090.3 459,2088.4 461.1,2087M466.7,2083 468.7,2081.6 471.3,2079.8 474,2077.9 476.6,2076.1 479.3,2074.2 481.6,2072.6M487.3,2068.6 489.9,2066.8 491.9,2065.4M497.6,2061.4 499.6,2060 502.2,2058.1 504.9,2056.3 507.5,2054.4 510.2,2052.6 512.5,2051M518.2,2047 520.8,2045.2 523.5,2043.4 526.1,2041.5 528.8,2039.7 531.4,2037.8 533.1,2036.7M538.8,2032.7 541.2,2031.1 543.4,2029.5M549.1,2025.5 550.9,2024.3 553.5,2022.4 556.2,2020.6 558.8,2018.7 561.5,2016.9 564,2015.1M569.6,2011.1 572,2009.4 574.7,2007.5 577.3,2005.6 579.9,2003.8 582.5,2001.9 584.4,2000.5M589.9,1996.5 592.1,1994.9 594.5,1993.1M600,1989.1 602.5,1987.2 605.2,1985.3 607.8,1983.5 610.5,1981.7 613.1,1979.8 614.9,1978.6M620.6,1974.7 622.9,1973.2 625.6,1971.3 628.2,1969.5 630.8,1967.6 633.5,1965.7 635.4,1964.2M640.9,1960 642.9,1958.5 645.4,1956.6M650.9,1952.5 653.3,1950.8 655.9,1948.9 658.6,1947.1 661.3,1945.3 664,1943.6 666,1942.3M671.9,1938.6 674.1,1937.3 676.8,1935.6 679.6,1934 682.4,1932.4 685.3,1930.8 688,1929.3M694.3,1926 696.7,1924.9 699.7,1923.6 699.7,1923.6M706.5,1920.8 708.7,1920 711.7,1918.9 714.8,1917.8 717.8,1916.7 720.9,1915.7 724,1914.6 725.3,1914.2M732.6,1911.9 735.3,1911 738.4,1910.2 741.5,1909.3 744.6,1908.6 747.8,1907.9 750.9,1907.2 752.9,1906.8M761,1905.3 763.7,1904.9 766.9,1904.3 767.7,1904.2M776,1902.9 778.6,1902.5 781.8,1902 785,1901.5 788.2,1901 791.4,1900.6 794.6,1900.1 797.8,1899.6 798.1,1899.6M806.4,1898.3 809.5,1897.8 812.7,1897.3 815.8,1896.7 819,1896.1 822.2,1895.5 825.4,1894.9 827.8,1894.4M835.7,1892.7 838,1892.2 841.2,1891.5 842.2,1891.2M850,1889.4 852.7,1888.7 855.8,1887.9 858.9,1887.1 862,1886.2 865.2,1885.3 868.3,1884.4 869.8,1883.9M877.2,1881.6 879.6,1880.9 882.7,1879.9 885.7,1878.9 888.8,1877.9 891.9,1877 895,1876 896.4,1875.5M903.4,1872.9 906,1871.7 908.8,1870.4M915.1,1867.1 917.5,1865.8 920.4,1864.3 923.3,1862.8 926.1,1861.3 929,1859.8 931.7,1858.4M938,1855.1 940.4,1853.8 943.3,1852.2 946.1,1850.7 949,1849.2 951.8,1847.6 954.4,1846.2M960.7,1842.8 963.2,1841.5 965.9,1840.1M972.2,1836.9 974.7,1835.5 977.5,1833.9 980.2,1832.3 983,1830.5 985.7,1828.8 988,1827.3M993.8,1823.5 995.7,1822.4 998.4,1820.8 1001.3,1819.2 1004.1,1817.7 1007,1816.2 1009.9,1814.7 1010.2,1814.6M1016.6,1811.3 1018.5,1810.3 1021.4,1808.8 1021.7,1808.6M1027.8,1805.1 1029.7,1803.9 1032.5,1802.2 1035.2,1800.5 1038,1798.8 1040.7,1797.1 1043.4,1795.3 1043.4,1795.3M1049.3,1791.5 1051.6,1790 1054.3,1788.3 1057,1786.5 1059.7,1784.8 1062.4,1783 1064.7,1781.6M1070.6,1777.9 1072.5,1776.7 1075.2,1775 1075.4,1774.9M1081.3,1771.2 1083.4,1769.9 1086.2,1768.2 1088.9,1766.5 1091.7,1764.8 1094.4,1763.1 1097,1761.5M1102.9,1757.8 1105.4,1756.3 1108.2,1754.6 1110.9,1752.9 1113.7,1751.2 1116.4,1749.4 1118.6,1748.1M1124.5,1744.4 1126.5,1743.2 1129.2,1741.4 1129.3,1741.4M1135.2,1737.7 1137.4,1736.3 1140.2,1734.6 1142.9,1732.9 1145.7,1731.2 1148.4,1729.5 1150.9,1728M1156.9,1724.4 1159.5,1722.9 1162.3,1721.3 1165.1,1719.6 1167.9,1718 1170.7,1716.4 1173,1715.1M1179.1,1711.6 1181,1710.5 1183.8,1708.9 1184.1,1708.7M1190.2,1705.2 1192.2,1704 1195,1702.4 1197.8,1700.8 1200.5,1699.1 1203.3,1697.5 1206.1,1695.8 1206.1,1695.8M1212.1,1692.2 1214.4,1690.8 1217.2,1689.1 1219.9,1687.4 1222.7,1685.8 1225.4,1684.1 1227.9,1682.6M1233.9,1679 1236.6,1677.5 1238.9,1676.1M1245,1672.6 1247.8,1671 1250.6,1669.5 1253.4,1667.9 1256.2,1666.3 1259.1,1664.8 1261.3,1663.6M1267.5,1660.2 1269.5,1659.1 1272.3,1657.6 1275.2,1656 1278,1654.5 1280.8,1652.9 1283.7,1651.3 1283.9,1651.2M1290,1647.8 1292.1,1646.6 1294.9,1645 1295,1644.9M1301.2,1641.4 1303.3,1640.2 1306.1,1638.5 1308.9,1636.9 1311.7,1635.3 1314.5,1633.7 1317.3,1632.2M1323.4,1628.7 1325.8,1627.4 1328.6,1625.8 1331.5,1624.3 1334.3,1622.7 1337.2,1621.2 1339.8,1619.8M1346.1,1616.4 1348.6,1615.1 1351.2,1613.7M1357.5,1610.4 1360,1609.1 1362.9,1607.6 1365.7,1606.1 1368.6,1604.6 1371.5,1603.1 1374.2,1601.7M1380.6,1598.5 1383,1597.2 1385.9,1595.8 1388.8,1594.3 1391.6,1592.9 1394.5,1591.4 1397.4,1590 1397.4,1590M1403.9,1586.8 1406.1,1585.7 1409,1584.2 1409.1,1584.2M1415.6,1581 1417.7,1580 1420.6,1578.5 1423.5,1577.1 1426.4,1575.7 1429.3,1574.3 1432.2,1572.9 1432.6,1572.7M1439.1,1569.6 1442,1568.2 1444.9,1566.8 1447.8,1565.4 1450.7,1564.1 1453.6,1562.7 1456.3,1561.4M1462.9,1558.4 1465.4,1557.2 1468.3,1555.9M1474.9,1552.9 1477.2,1551.9 1480.1,1550.6 1483.1,1549.3 1486,1548 1489,1546.7 1491.9,1545.3 1492.4,1545.1M1499,1542.1 1501.7,1540.9 1504.7,1539.5 1507.6,1538.2 1510.5,1536.8 1513.5,1535.5 1516.4,1534.1M1523,1531.1 1525.2,1530 1528.1,1528.7 1528.3,1528.6M1534.9,1525.5 1536.9,1524.5 1539.8,1523.2 1542.7,1521.8 1545.6,1520.4 1548.6,1519 1551.5,1517.5 1552,1517.3M1558.4,1514.1 1561.1,1512.8 1564,1511.4 1566.9,1509.9 1569.8,1508.5 1572.7,1507 1575.3,1505.7M1581.7,1502.4 1584.2,1501.1 1586.9,1499.7M1593.2,1496.4 1595.6,1495.1 1598.5,1493.6 1601.3,1492 1604.2,1490.5 1607,1488.9 1609.6,1487.5M1615.7,1484 1618.3,1482.6 1621.1,1481 1623.9,1479.4 1626.7,1477.9 1629.6,1476.3 1632,1475M1638.3,1471.6 1640.9,1470.1 1643.4,1468.8M1649.6,1465.5 1652.3,1464.1 1655.2,1462.5 1658.1,1461 1660.9,1459.5 1663.8,1458 1666.2,1456.7" stroke="#f0f" stroke-width="6"/>
</g>
<g class="ce">
<path d="M291.1,2225.5v-14.5M291.1,1241.5v14.5M319.3,2225.5v-14.5M319.3,1241.5v14.5M347.4,2225.5v-14.5M347.4,1241.5v14.5M375.5,2225.5v-14.5M375.5,1241.5v14.5M403.6,2225.5v-14.5M403.6,1241.5v14.5M431.8,2225.5v-14.5M431.8,1241.5v14.5M459.9,2225.5v-14.5M459.9,1241.5v14.5M488,2225.5v-14.5M488,1241.5v14.5M516.2,2225.5v-14.5M516.2,1241.5v14.5M572.4,2225.5v-14.5M572.4,1241.5v14.5M600.6,2225.5v-14.5M600.6,1241.5v14.5M628.7,2225.5v-14.5M628.7,1241.5v14.5M656.8,2225.5v-14.5M656.8,1241.5v14.5M685,2225.5v-14.5M685,1241.5v14.5M713.1,2225.5v-14.5M713.1,1241.5v14.5M741.2,2225.5v-14.5M741.2,1241.5v14.5M769.3,2225.5v-14.5M769.3,1241.5v14.5M797.5,2225.5v-14.5M797.5,1241.5v14.5M853.7,2225.5v-14.5M853.7,1241.5v14.5M881.9,2225.5v-14.5M881.9,1241.5v14.5M910,2225.5v-14.5M910,1241.5v14.5M938.1,2225.5v-14.5M938.1,1241.5v14.5M966.2,2225.5v-14.5M966.2,1241.5v14.5M994.4,2225.5v-14.5M994.4,1241.5v14.5M1022.5,2225.5v-14.5M1022.5,1241.5v14.5M1050.6,2225.5v-14.5M1050.6,1241.5v14.5M1078.8,2225.5v-14.5M1078.8,1241.5v14.5M1135,2225.5v-14.5M1135,1241.5v14.5M1163.2,2225.5v-14.5M1163.2,1241.5v14.5M1191.3,2225.5v-14.5M1191.3,1241.5v14.5M1219.4,2225.5v-14.5M1219.4,1241.5v14.5M1247.5,2225.5v-14.5M1247.5,1241.5v14.5M1275.7,2225.5v-14.5M1275.7,1241.5v14.5M1303.8,2225.5v-14.5M1303.8,1241.5v14.5M1331.9,2225.5v-14.5M1331.9,1241.5v14.5M1360.1,2225.5v-14.5M1360.1,1241.5v14.5M1416.3,2225.5v-14.5M1416.3,1241.5v14.5M1444.5,2225.5v-14.5M1444.5,1241.5v14.5M1472.6,2225.5v-14.5M1472.6,1241.5v14.5M1500.7,2225.5v-14.5M1500.7,1241.5v14.5M1528.8,2225.5v-14.5M1528.8,1241.5v14.5M1557,2225.5v-14.5M1557,1241.5v14.5M1585.1,2225.5v-14.5M1585.1,1241.5v14.5M1613.2,2225.5v-14.5M1613.2,1241.5v14.5M1641.4,2225.5v-14.5M1641.4,1241.5v14.5" stroke="#000" stroke-width="3" fill="none"/>
<path d="M544.3,2225.5v-28.5M544.3,1241.5v28.5M825.6,2225.5v-28.5M825.6,1241.5v28.5M1106.9,2225.5v-28.5M1106.9,1241.5v28.5M1388.2,2225.5v-28.5M1388.2,1241.5v28.5" stroke="#000" stroke-width="3" fill="none"/>
<path d="M263.0,2186.1h14.5M1669.5,2186.1h-14.5M263.0,2146.8h14.5M1669.5,2146.8h-14.5M263.0,2107.4h14.5M1669.5,2107.4h-14.5M263.0,2068.1h14.5M1669.5,2068.1h-14.5M263.0,1989.3h14.5M1669.5,1989.3h-14.5M263.0,1950h14.5M1669.5,1950h-14.5M263.0,1910.6h14.5M1669.5,1910.6h-14.5M263.0,1871.3h14.5M1669.5,1871.3h-14.5M263.0,1792.5h14.5M1669.5,1792.5h-14.5M263.0,1753.2h14.5M1669.5,1753.2h-14.5M263.0,1713.8h14.5M1669.5,1713.8h-14.5M263.0,1674.5h14.5M1669.5,1674.5h-14.5M263.0,1595.7h14.5M1669.5,1595.7h-14.5M263.0,1556.4h14.5M1669.5,1556.4h-14.5M263.0,1517h14.5M1669.5,1517h-14.5M263.0,1477.7h14.5M1669.5,1477.7h-14.5M263.0,1398.9h14.5M1669.5,1398.9h-14.5M263.0,1359.6h14.5M1669.5,1359.6h-14.5M263.0,1320.2h14.5M1669.5,1320.2h-14.5M263.0,1280.9h14.5M1669.5,1280.9h-14.5" stroke="#000" stroke-width="3" fill="none"/>
<path d="M263.0,2028.7h28.5M1669.5,2028.7h-28.5M263.0,1831.9h28.5M1669.5,1831.9h-28.5M263.0,1635.1h28.5M1669.5,1635.1h-28.5M263.0,1438.3h28.5M1669.5,1438.3h-28.5" stroke="#000" stroke-width="3" fill="none"/>
<rect x="263.0" y="1241.5" width="1406.5" height="984.0" fill="none" stroke="#000" stroke-width="3"/>
<line x1="263.0" y1="1240.0" x2="263.0" y2="2227.0" stroke="#000" stroke-width="4"/>
</g>
<text transform="translate(251.1,1261.9) scale(1,1.07)" font-size="59" text-anchor="end" xml:space="preserve" >2.5</text>
<text transform="translate(251.1,1458.7) scale(1,1.07)" font-size="59" text-anchor="end" xml:space="preserve" >2</text>
<text transform="translate(251.1,1655.5) scale(1,1.07)" font-size="59" text-anchor="end" xml:space="preserve" >1.5</text>
<text transform="translate(251.1,1852.3) scale(1,1.07)" font-size="59" text-anchor="end" xml:space="preserve" >1</text>
<text transform="translate(251.1,2049.1) scale(1,1.07)" font-size="59" text-anchor="end" xml:space="preserve" >0.5</text>
<text transform="translate(251.1,2245.9) scale(1,1.07)" font-size="59" text-anchor="end" xml:space="preserve" >0</text>
<text transform="translate(263.4,2280.7) scale(1,1.07)" font-size="59" text-anchor="middle" xml:space="preserve" >0</text>
<text transform="translate(544.7,2280.7) scale(1,1.07)" font-size="59" text-anchor="middle" xml:space="preserve" >0.5</text>
<text transform="translate(826,2280.7) scale(1,1.07)" font-size="59" text-anchor="middle" xml:space="preserve" >1</text>
<text transform="translate(1107.3,2280.7) scale(1,1.07)" font-size="59" text-anchor="middle" xml:space="preserve" >1.5</text>
<text transform="translate(1388.6,2280.7) scale(1,1.07)" font-size="59" text-anchor="middle" xml:space="preserve" >2</text>
<text transform="translate(1669.9,2280.7) scale(1,1.07)" font-size="59" text-anchor="middle" xml:space="preserve" >2.5</text>
<text transform="translate(967.5,2355) scale(1,1.05)" font-size="88" text-anchor="middle" xml:space="preserve" >t / ps</text>
<text transform="translate(118.3,1884) rotate(-90) scale(1.08,1.05)" font-size="88" text-anchor="start" xml:space="preserve" >τ</text>
<text transform="translate(153.8,1845.8) rotate(-90) scale(1.03,1.02)" font-size="62" text-anchor="start" xml:space="preserve" >QSL</text>
<text transform="translate(118.3,1705) rotate(-90) scale(1,1.02)" font-size="88" text-anchor="start" xml:space="preserve" >/ ps</text>
<text transform="translate(1122.4,1438.5) scale(0.9976,1)" font-size="70" text-anchor="start" xml:space="preserve" >d <tspan font-weight="bold" dy="5.5">=</tspan><tspan dy="-5.5"> 5 nm</tspan></text>
<g class="ce">
<rect x="290" y="1259" width="449" height="355" fill="#fff"/>
<path d="M290,1259h449v355h-449z M293,1262v349h443v-349z" fill="#000" fill-rule="evenodd"/>
<path d="M306.7,1301.5H364.3" stroke="#000" stroke-width="5" fill="none"/>
<path d="M306.7,1369H364.3" stroke="#f00" stroke-width="5.6" fill="none" stroke-dasharray="22 11"/>
<path d="M306.7,1436H364.3" stroke="#00f" stroke-width="5.6" fill="none" stroke-dasharray="4.6 12.3"/>
<path d="M306.7,1504H364.3" stroke="#00f" stroke-width="5.6" fill="none" stroke-dasharray="4.6 12.3 22.7 11.3"/>
<path d="M306.7,1571H364.3" stroke="#f0f" stroke-width="5.6" fill="none" stroke-dasharray="22 11.3 4.6 12.3 4.6 12.3"/>
</g>
<text transform="translate(392.9,1308.1) scale(0.9857,1.03)" font-size="50" text-anchor="start" xml:space="preserve" >Γ<tspan font-size="35.5" dy="19.2">0</tspan><tspan dy="-19.2"> </tspan><tspan font-weight="bold" dy="4">=</tspan><tspan dy="-4"> 41.36 μeV</tspan></text>
<text transform="translate(392.9,1375.6) scale(0.9857,1.03)" font-size="50" text-anchor="start" xml:space="preserve" >Γ<tspan font-size="35.5" dy="19.2">0</tspan><tspan dy="-19.2"> </tspan><tspan font-weight="bold" dy="4">=</tspan><tspan dy="-4"> 0.414 μeV</tspan></text>
<text transform="translate(392.9,1443.2) scale(0.9857,1.03)" font-size="50" text-anchor="start" xml:space="preserve" >Γ<tspan font-size="35.5" dy="19.2">0</tspan><tspan dy="-19.2"> </tspan><tspan font-weight="bold" dy="4">=</tspan><tspan dy="-4"> 0.041 μeV</tspan></text>
<text transform="translate(392.9,1510.8) scale(0.9857,1.03)" font-size="50" text-anchor="start" xml:space="preserve" >Γ<tspan font-size="35.5" dy="19.2">0</tspan><tspan dy="-19.2"> </tspan><tspan font-weight="bold" dy="4">=</tspan><tspan dy="-4"> 0.004 μeV</tspan></text>
<text transform="translate(392.9,1578.3) scale(0.9857,1.03)" font-size="50" text-anchor="start" xml:space="preserve" >Γ<tspan font-size="35.5" dy="19.2">0</tspan><tspan dy="-19.2"> </tspan><tspan font-weight="bold" dy="4">=</tspan><tspan dy="-4"> 0.0008 μeV</tspan></text>
</svg>
</body></html>
